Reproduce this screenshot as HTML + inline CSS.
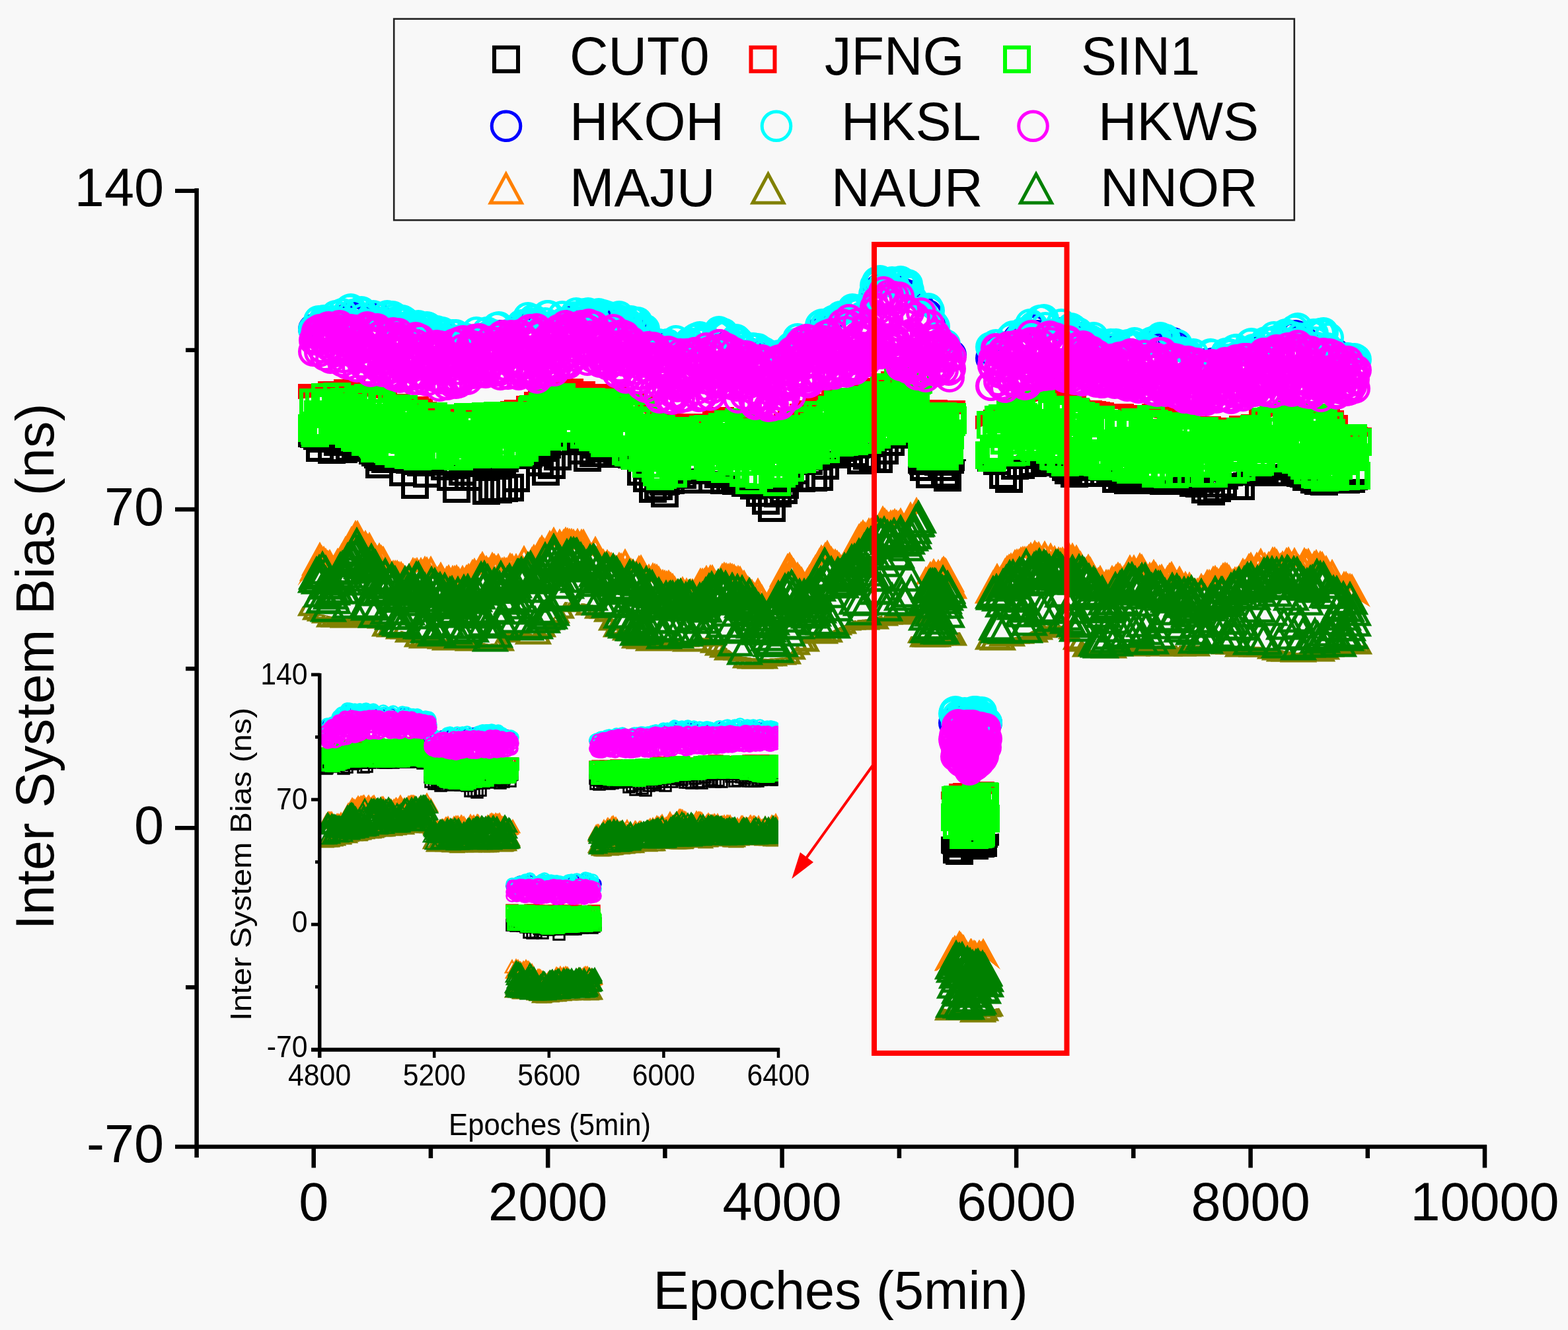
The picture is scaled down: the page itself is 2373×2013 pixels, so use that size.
<!DOCTYPE html><html><head><meta charset="utf-8"><title>Inter System Bias</title><style>html,body{margin:0;padding:0;background:#f8f8f8;width:2373px;height:2013px}svg{display:block}</style></head><body><svg width="2373" height="2013" viewBox="0 0 2373 2013"><rect width="2373" height="2013" fill="#f8f8f8"/><defs>
<marker id="mCUT0" markerUnits="userSpaceOnUse" markerWidth="44" markerHeight="44" refX="0" refY="0" overflow="visible"><rect x="-18" y="-18" width="36" height="36" fill="none" stroke="#000000" stroke-width="6"/></marker>
<marker id="mJFNG" markerUnits="userSpaceOnUse" markerWidth="44" markerHeight="44" refX="0" refY="0" overflow="visible"><rect x="-18" y="-18" width="36" height="36" fill="none" stroke="#ff0000" stroke-width="6"/></marker>
<marker id="mSIN1" markerUnits="userSpaceOnUse" markerWidth="44" markerHeight="44" refX="0" refY="0" overflow="visible"><rect x="-18" y="-18" width="36" height="36" fill="none" stroke="#00ff00" stroke-width="6"/></marker>
<marker id="mHKOH" markerUnits="userSpaceOnUse" markerWidth="10" markerHeight="10" refX="0" refY="0" overflow="visible"><circle r="20.5" fill="none" stroke="#0000ff" stroke-width="5"/></marker>
<marker id="mHKSL" markerUnits="userSpaceOnUse" markerWidth="10" markerHeight="10" refX="0" refY="0" overflow="visible"><circle r="20.5" fill="none" stroke="#00ffff" stroke-width="5"/></marker>
<marker id="mHKWS" markerUnits="userSpaceOnUse" markerWidth="10" markerHeight="10" refX="0" refY="0" overflow="visible"><circle r="20.5" fill="none" stroke="#ff00ff" stroke-width="5"/></marker>
<marker id="mMAJU" markerUnits="userSpaceOnUse" markerWidth="10" markerHeight="10" refX="0" refY="0" overflow="visible"><path d="M0 -22 L24 22 L-24 22 Z" fill="none" stroke="#ff8000" stroke-width="5" stroke-linejoin="miter"/></marker>
<marker id="mNAUR" markerUnits="userSpaceOnUse" markerWidth="10" markerHeight="10" refX="0" refY="0" overflow="visible"><path d="M0 -22 L24 22 L-24 22 Z" fill="none" stroke="#808000" stroke-width="5" stroke-linejoin="miter"/></marker>
<marker id="mNNOR" markerUnits="userSpaceOnUse" markerWidth="10" markerHeight="10" refX="0" refY="0" overflow="visible"><path d="M0 -22 L24 22 L-24 22 Z" fill="none" stroke="#008000" stroke-width="5" stroke-linejoin="miter"/></marker>
<marker id="iCUT0" markerUnits="userSpaceOnUse" markerWidth="21.5" markerHeight="21.5" refX="0" refY="0" overflow="visible"><rect x="-8.25" y="-8.25" width="16.5" height="16.5" fill="none" stroke="#000000" stroke-width="3"/></marker>
<marker id="iJFNG" markerUnits="userSpaceOnUse" markerWidth="21.5" markerHeight="21.5" refX="0" refY="0" overflow="visible"><rect x="-8.25" y="-8.25" width="16.5" height="16.5" fill="none" stroke="#ff0000" stroke-width="3"/></marker>
<marker id="iSIN1" markerUnits="userSpaceOnUse" markerWidth="21.5" markerHeight="21.5" refX="0" refY="0" overflow="visible"><rect x="-8.25" y="-8.25" width="16.5" height="16.5" fill="none" stroke="#00ff00" stroke-width="3"/></marker>
<marker id="iHKOH" markerUnits="userSpaceOnUse" markerWidth="10" markerHeight="10" refX="0" refY="0" overflow="visible"><circle r="8.5" fill="none" stroke="#0000ff" stroke-width="2.6"/></marker>
<marker id="iHKSL" markerUnits="userSpaceOnUse" markerWidth="10" markerHeight="10" refX="0" refY="0" overflow="visible"><circle r="8.5" fill="none" stroke="#00ffff" stroke-width="2.6"/></marker>
<marker id="iHKWS" markerUnits="userSpaceOnUse" markerWidth="10" markerHeight="10" refX="0" refY="0" overflow="visible"><circle r="8.5" fill="none" stroke="#ff00ff" stroke-width="2.6"/></marker>
<marker id="iMAJU" markerUnits="userSpaceOnUse" markerWidth="10" markerHeight="10" refX="0" refY="0" overflow="visible"><path d="M0 -9 L10 9 L-10 9 Z" fill="none" stroke="#ff8000" stroke-width="2.6" stroke-linejoin="miter"/></marker>
<marker id="iNAUR" markerUnits="userSpaceOnUse" markerWidth="10" markerHeight="10" refX="0" refY="0" overflow="visible"><path d="M0 -9 L10 9 L-10 9 Z" fill="none" stroke="#808000" stroke-width="2.6" stroke-linejoin="miter"/></marker>
<marker id="iNNOR" markerUnits="userSpaceOnUse" markerWidth="10" markerHeight="10" refX="0" refY="0" overflow="visible"><path d="M0 -9 L10 9 L-10 9 Z" fill="none" stroke="#008000" stroke-width="2.6" stroke-linejoin="miter"/></marker>
<clipPath id="ic"><rect x="484" y="990" width="694" height="600"/></clipPath>
</defs>
<defs><clipPath id="c0"><polygon points="411,2013 411,666 451,666 489,661 522,659 555,676 578,689 604,692 637,695 670,695 703,695 752,695 773,691 806,686 822,676 855,656 872,658 921,679 954,691 970,702 997,735 1036,711 1052,709 1106,716 1139,735 1172,735 1188,732 1204,702 1237,691 1270,676 1303,672 1336,666 1356,656 1412,653 1452,653 1452,2013"/></clipPath><clipPath id="c1"><polygon points="411,0 411,604 451,604 489,600 522,595 555,600 578,604 604,615 637,624 670,631 703,630 752,627 773,623 806,617 822,610 855,595 872,595 921,604 954,610 970,620 997,645 1036,650 1052,647 1106,634 1139,645 1172,654 1188,650 1204,637 1237,625 1270,608 1303,604 1336,590 1356,575 1412,568 1452,568 1452,0"/></clipPath><clipPath id="c2"><polygon points="1334,2013 1334,695 1374,695 1463,695 1503,695 1503,2013"/></clipPath><clipPath id="c3"><polygon points="1334,0 1334,627 1374,627 1463,627 1503,627 1503,0"/></clipPath><clipPath id="c4"><polygon points="1436,2013 1436,701 1476,701 1504,698 1570,682 1620,708 1636,701 1673,711 1709,716 1745,726 1781,722 1836,722 1890,711 1945,700 1999,729 2035,725 2076,725 2116,725 2116,2013"/></clipPath><clipPath id="c5"><polygon points="1436,0 1436,650 1476,650 1504,637 1570,607 1620,615 1636,625 1673,632 1709,632 1745,632 1781,640 1836,654 1890,647 1945,621 1999,630 2035,661 2076,661 2116,661 2116,0"/></clipPath><clipPath id="c6"><polygon points="1384,2013 1384,1266 1424,1266 1450,1270 1476,1270 1513,1261 1553,1261 1553,2013"/></clipPath><clipPath id="c7"><polygon points="1384,0 1384,1210 1424,1210 1450,1208 1476,1205 1513,1200 1553,1200 1553,0"/></clipPath><clipPath id="c8"><polygon points="411,0 411,514 451,514 466,512 506,497 532,501 572,501 621,514 670,524 703,522 740,517 773,512 806,504 822,504 839,500 872,497 904,495 921,497 937,512 970,521 1003,537 1040,539 1089,527 1106,537 1139,547 1172,554 1188,547 1204,524 1237,517 1254,511 1287,488 1305,492 1318,484 1326,447 1340,448 1373,458 1406,484 1416,512 1422,527 1439,533 1463,542 1503,542 1503,0"/></clipPath><clipPath id="c9"><polygon points="1436,0 1436,566 1476,566 1504,534 1537,522 1570,510 1603,517 1636,527 1673,551 1709,542 1745,536 1781,547 1818,558 1854,552 1890,547 1927,537 1963,529 1999,537 2035,551 2076,552 2116,552 2116,0"/></clipPath><clipPath id="c10"><polygon points="1380,0 1380,1112 1420,1112 1445,1103 1468,1103 1490,1107 1517,1112 1557,1112 1557,0"/></clipPath><clipPath id="c11"><polygon points="411,0 411,886 451,886 483,850 506,870 539,817 572,853 604,880 637,863 670,886 703,889 736,863 748,867 760,865 789,860 806,852 839,827 855,830 888,834 904,847 937,860 954,865 970,870 1003,893 1052,896 1070,887 1091,880 1114,887 1138,895 1162,930 1189,872 1195,868 1219,898 1249,847 1272,865 1293,832 1323,802 1340,794 1366,797 1389,777 1419,807 1459,807 1459,0"/></clipPath><clipPath id="c12"><polygon points="411,2013 411,914 451,914 483,929 506,934 539,934 572,939 604,954 637,963 670,967 703,970 736,974 748,974 760,954 789,954 806,960 839,934 855,911 888,914 904,917 937,944 954,963 970,966 1003,970 1052,970 1070,963 1091,974 1114,992 1138,996 1162,997 1189,995 1195,989 1219,963 1249,960 1272,949 1293,939 1323,936 1340,929 1366,929 1389,929 1419,934 1459,934 1459,2013"/></clipPath><clipPath id="c13"><polygon points="1334,0 1334,889 1374,889 1397,882 1428,873 1463,919 1503,919 1503,0"/></clipPath><clipPath id="c14"><polygon points="1334,2013 1334,963 1374,963 1397,963 1428,963 1463,954 1503,954 1503,2013"/></clipPath><clipPath id="c15"><polygon points="1436,0 1436,932 1476,932 1505,886 1547,844 1587,853 1621,847 1651,871 1673,895 1716,866 1763,880 1818,895 1854,884 1908,862 1963,858 1999,866 2035,895 2076,920 2116,920 2116,0"/></clipPath><clipPath id="c16"><polygon points="1436,2013 1436,959 1476,959 1505,969 1547,963 1587,942 1621,951 1651,984 1673,984 1716,979 1763,977 1818,977 1854,977 1908,979 1963,988 1999,984 2035,981 2076,974 2116,974 2116,2013"/></clipPath><clipPath id="c17"><polygon points="1375,0 1375,1472 1415,1472 1450,1440 1475,1457 1495,1452 1520,1472 1560,1472 1560,0"/></clipPath><clipPath id="c18"><polygon points="1375,2013 1375,1524 1415,1524 1450,1531 1475,1531 1495,1529 1520,1524 1560,1524 1560,2013"/></clipPath></defs>
<g>
<g clip-path="url(#c0)"><path fill="none" stroke="none" marker-start="url(#mCUT0)" marker-mid="url(#mCUT0)" marker-end="url(#mCUT0)" d="M472 656l4-2 4 6 4 1 4 3 4-3 4 2 4-3 4 1 4 2 4-13 4-6 4 15 4 3 4 2 4-8 4 10 4 1 4 6 4-7 4 1 4-7 4 18 4 4 4 3 4 3 4 3 4 1 4-10 4-1 4-2 4 2 4 8 4 0 4-3 4 4 4 3 4 3 4-9 4-5 4 1 4-1 4-4 4 12 4 7 4-3 4-1 4-9 4-7 4-1 4 3 4 0 4 2 4 17 4-15 4 3 4 1 4 3 4 5 4-7 4-3 4-8 4-1 4 5 4 15 4-7 4-10 4 4 4 11 4 3 4-3 4-4 4 6 4-2 4-10 4 5 4-1 4-3 4 4 4-19 4 4 4-2 4 15 4-2 4-13 4 13 4-4 4-6 4 2 4-4 4-12 4-3 4 10 4-8 4-11 4-5 4 13 4-18 4 4 4 16 4 2 4-1 4-3 4 9 4-11 4 5 4-4 4 1 4 16 4 3 4 0 4 3 4-19 4 3 4 1 4 9 4-5 4 7 4 10 4-2 4 2 4 3 4-9 4 7 4 3 4 1 4 1 4 14 4-2 4 2 4 6 4 25 4-10 4 3 4-1 4-9 4 0 4 0 4-4 4-13 4-1 4-8 4 6 4 7 4-6 4 9 4-3 4-7 4 5 4-6 4 14 4-3 4-7 4-5 4 2 4 13 4-2 4-9 4 6 4 3 4 12 4-2 4 3 4-9 4 17 4-9 4 7 4-5 4-2 4-4 4 7 4-9 4 0 4 3 4 6 4 0 4-9 4 0 4 18 4 0 4-13 4-20 4-10 4-4 4-5 4 0 4 4 4-2 4 14 4-16 4 8 4 1 4-2 4-2 4-15 4 8 4 1 4 1 4 0 4-7 4 1 4-3 4-3 4 6 4-19 4 5 4 11 4-1 4-6 4-3 4-2 4 10 4-1 4-9 4 0 4-11 4 3 4 1 4 1 4-11 4-3 4 0 4 2 4 0 4-4 4 2 4 5 4 7 4 3 4-17"/></g>
<g clip-path="url(#c0)"><path fill="none" stroke="none" marker-start="url(#mCUT0)" marker-mid="url(#mCUT0)" marker-end="url(#mCUT0)" d="M475 657l9 21 9-15 9 18 9-12 9 11 9-2 9-11 9 4 9 7 9-2 9 27 9-8 9-6 9 3 9 23 9-26 9 45 9-34 9 17 9-27 9 9 9 7 9 16 9 18 9-26 9 8 9-21 9-8 9 50 9-4 9 2 9-2 9-1 9-14 9-41 9 6 9-8 9 19 9 14 9-10 9-13 9-31 9-2 9 10 9 14 9 11 9-7 9-10 9-1 9 12 9-4 9-2 9 3 9 6 9 24 9 10 9 16 9-4 9 11 9-20 9-9 9 1 9 7 9-14 9-3 9-1 9 18 9-8 9 9 9-1 9 2 9-9 9 9 9 7 9 11 9 12 9 11 9-22 9-5 9-25 9-5 9 12 9-34 9 33 9-1 9-17 9-20 9 3 9-10 9-4 9 12 9 11 9-7 9 4 9 1 9-13 9-13 9-11 9-3 9 2 9-1"/></g>
<g clip-path="url(#c2)"><path fill="none" stroke="none" marker-start="url(#mCUT0)" marker-mid="url(#mCUT0)" marker-end="url(#mCUT0)" d="M1395 696l2 2 2-4 2 3 2-3 2-2 2-11 2 4 2 5 2-4 2-3 2-3 2 4 2 3 2-3 2 14 2-14 2 0 2-5 2-1 2-1 2 9 2 6 2-15"/></g>
<g clip-path="url(#c2)"><path fill="none" stroke="none" marker-start="url(#mCUT0)" marker-mid="url(#mCUT0)" marker-end="url(#mCUT0)" d="M1398 707l4-17 5 28 5-25 4 0 4 6 5 8 5 10 4 6 4-27"/></g>
<g clip-path="url(#c4)"><path fill="none" stroke="none" marker-start="url(#mCUT0)" marker-mid="url(#mCUT0)" marker-end="url(#mCUT0)" d="M1497 689l4-6 4 4 4-4 4 4 4-8 4-2 4-2 4 0 4 11 4-3 4 5 4-7 4 7 4-19 4 15 4-7 4-1 4 2 4 7 4-3 4-7 4 10 4-1 4-3 4-3 4 9 4 11 4 4 4 5 4-1 4-5 4 4 4 2 4-3 4-7 4-6 4 4 4 0 4-5 4 8 4-4 4 1 4 0 4 9 4 0 4 7 4 2 4 3 4-3 4-10 4 1 4 2 4 1 4 1 4 9 4-5 4-1 4 0 4 0 4-2 4-2 4 14 4-3 4-4 4 7 4 1 4 4 4-4 4 3 4-11 4 10 4-4 4-9 4-6 4 2 4-2 4 0 4 19 4-17 4-2 4-1 4 21 4-2 4 0 4-20 4 2 4 11 4 4 4 0 4-21 4 0 4 12 4-14 4 9 4 3 4 4 4 1 4-5 4 3 4-20 4-1 4-1 4 10 4 7 4-1 4-9 4 3 4-12 4-3 4 2 4-3 4 2 4 6 4 0 4-1 4 19 4 3 4 0 4 4 4 2 4-9 4 12 4 4 4-8 4-8 4 4 4 10 4 0 4-5 4-8 4 8 4-12 4 6 4 10 4 3 4-2 4 1 4-4 4-3"/></g>
<g clip-path="url(#c4)"><path fill="none" stroke="none" marker-start="url(#mCUT0)" marker-mid="url(#mCUT0)" marker-end="url(#mCUT0)" d="M1500 693l9 5 9 21 9 6 9-20 9-1 9-15 9 12 9-1 9-6 9 5 9-4 9 1 9 16 9 5 9-1 9-17 9 17 9-11 9 2 9 7 9 11 9-6 9 8 9-4 9-8 9 12 9 0 9-1 9 2 9-6 9 0 9 6 9-8 9 11 9 1 9 9 9 3 9-5 9-7 9-17 9 21 9 0 9-31 9 0 9 10 9-2 9-12 9 14 9-17 9 2 9 14 9 2 9 6 9-1 9 7 9 1 9-7 9-2 9-1 9 6 9-6"/></g>
<g clip-path="url(#c6)"><path fill="none" stroke="none" marker-start="url(#mCUT0)" marker-mid="url(#mCUT0)" marker-end="url(#mCUT0)" d="M1445 1271l2 1 2-7 2 5 2 1 2 0 2 1 2-6 2-1 2 7 2-16 2-1 2 2 2-5 2 0 2 12 2 9 2-4 2-9 2-9 2 19 2-4 2-4 2-3"/></g>
<g clip-path="url(#c6)"><path fill="none" stroke="none" marker-start="url(#mCUT0)" marker-mid="url(#mCUT0)" marker-end="url(#mCUT0)" d="M1448 1286l4 2 5-11 5-12 4-1 4 7 5 9 5-18 4 15 4-1"/></g>
<g clip-path="url(#c1)"><path fill="none" stroke="none" marker-start="url(#mJFNG)" marker-mid="url(#mJFNG)" marker-end="url(#mJFNG)" d="M472 602l6 6 6 1 6-2 6-3 6-6 6 0 6 0 6 2 6-5 6 1 6 2 6 11 6 1 6 0 6 0 6-2 6 0 6 3 6 7 6 2 6-3 6 9 6 1 6-5 6 5 6-6 6 3 6 5 6 2 6 2 6 4 6-1 6 4 6 1 6-3 6 0 6 3 6-5 6 5 6-1 6-4 6 4 6-4 6 2 6-4 6 3 6-2 6 1 6-1 6-3 6-4 6-2 6 3 6 0 6-9 6 5 6-11 6-3 6 6 6-3 6-3 6-2 6-9 6-4 6-2 6 5 6 2 6-3 6 4 6 1 6-1 6 0 6 4 6 7 6-8 6-1 6 3 6 9 6 1 6 1 6-2 6 3 6 2 6 14 6 7 6 2 6 4 6-3 6 8 6-6 6 0 6 5 6-1 6 9 6-8 6-5 6 9 6-1 6-8 6 2 6 1 6-11 6-2 6 4 6-1 6 3 6-1 6 6 6 2 6-8 6 2 6 2 6 9 6-1 6 4 6 4 6-9 6-1 6-2 6-4 6-4 6-5 6-1 6-4 6 0 6-5 6 7 6-11 6-3 6-3 6 2 6-8 6-2 6 3 6 1 6 0 6 0 6-1 6-4 6-6 6-4 6-3 6-2 6 0 6 1 6-4 6-7 6-8 6 1 6-4 6 3 6-1 6-2"/></g>
<g clip-path="url(#c3)"><path fill="none" stroke="none" marker-start="url(#mJFNG)" marker-mid="url(#mJFNG)" marker-end="url(#mJFNG)" d="M1395 629l3-3 3 2 3 8 3 2 3-11 3-1 3 1 3 9 3-2 3 2 3 2 3-8 3 4 3-3 3-4"/></g>
<g clip-path="url(#c5)"><path fill="none" stroke="none" marker-start="url(#mJFNG)" marker-mid="url(#mJFNG)" marker-end="url(#mJFNG)" d="M1497 650l6-6 6-3 6 2 6-7 6-3 6-6 6-2 6-7 6-2 6 6 6-8 6 1 6 2 6-3 6-2 6-2 6 1 6 4 6 4 6-3 6 1 6 8 6 10 6-4 6-4 6 1 6 1 6 1 6 11 6 2 6-1 6 1 6-11 6 2 6 7 6-1 6-2 6 4 6 1 6-3 6-5 6-3 6 6 6 2 6-3 6 5 6 9 6-4 6 5 6 2 6 0 6-3 6 5 6 4 6-9 6 2 6 9 6-8 6 7 6 0 6-2 6 0 6-6 6-3 6 1 6-1 6-2 6 1 6-9 6 4 6-4 6-1 6-3 6-2 6-3 6 1 6 0 6-4 6 6 6 3 6 1 6-2 6-3 6 3 6 2 6 4 6 7 6 14 6 4 6 4 6-3 6-1 6 1"/></g>
<g clip-path="url(#c7)"><path fill="none" stroke="none" marker-start="url(#mJFNG)" marker-mid="url(#mJFNG)" marker-end="url(#mJFNG)" d="M1445 1219l3-1 3-1 3-7 3-3 3 1 3-2 3 8 3 1 3 1 3 0 3-3 3 1 3-10 3 7 3 2"/></g>
<path fill="none" stroke="none" marker-start="url(#mSIN1)" marker-mid="url(#mSIN1)" marker-end="url(#mSIN1)" d="M472 648l2-39 2 43 1 4 2-12 2-17 2-18 2 33 1 5 2-20 2 23 2-49 2 15 1 26 2-33 2 1 2 17 2 18 1-14 2 21 2-36 2-16 2 21 1-5 2-7 2 35 2-21 2-15 1 16 2 0 2-7 2 40 2-40 1 11 2 27 2-9 2 16 2-1 1 2 2-59 2 56 2-13 2-37 1 50 2-6 2 15 2-44 2-23 1 49 2 18 2-37 2 39 2 2 1 6 2-74 2 2 2 18 2 40 1-24 2-28 2 28 2 2 2 36 1-46 2 47 2 3 2-40 2-20 1 57 2-5 2-27 2-30 2 4 1 65 2-28 2-22 2-9 2-9 1 47 2-33 2 12 2 44 2-9 1 9 2-42 2 4 2-25 2 56 1-5 2 14 2-7 2-3 2-33 1 7 2-13 2 0 2 41 2-34 1 30 2-21 2 6 2-33 2-1 1 18 2-15 2 0 2 56 2-45 1 44 2-39 2-4 2 38 2 7 1-33 2 5 2-29 2 20 2 28 1-47 2 20 2-9 2 35 2-9 1 20 2 0 2-27 2 5 2 3 1-13 2 21 2-7 2-42 2 55 1-55 2 17 2-14 2 10 2-8 1 26 2 26 2-31 2 20 2-16 1 26 2-17 2-16 2-24 2 7 1 45 2-41 2-7 2 0 2-3 1 5 2 31 2 7 2-45 2 47 1 5 2-38 2-8 2-4 2 3 1 54 2-39 2 36 2-35 2 25 1-35 2 40 2-28 2 6 2-14 1 31 2 10 2-2 2-9 2-45 1 49 2 0 2-15 2-27 2-2 1 8 2 19 2-39 2-3 2 44 1-21 2 27 2-15 2-23 2-6 1 33 2-43 2 5 2 38 2-43 1 40 2-38 2-7 2 15 2-14 1 50 2-50 2-6 2 15 2-4 1 10 2-19 2-6 2 14 2 24 1 1 2 8 2-18 2-2 2-14 1 5 2-9 2 39 2-6 2-33 1 36 2-38 2 18 2-16 2 4 1 14 2 30 2-49 2 21 2 3 1 21 2-29 2-17 2 54 2 0 1-1 2-35 2 12 2-21 2 2 1 41 2-45 2 50 2 6 2-49 1 12 2 19 2 18 2-56 2 8 1-10 2 17 2 27 2 8 2-7 1-49 2 58 2-19 2-4 2 12 1-40 2 67 2-26 2 28 2-61 1 24 2 21 2 16 2 4 2 1 1-71 2 61 2-16 2 2 2-43 1 70 2-65 2 8 2 66 2-30 1 18 2-16 2-27 2-8 2 9 1 12 2 49 2 6 2-61 2 29 1 38 2-72 2 70 2-7 2-51 1-7 2 32 2 4 2-30 2 25 1-30 2 62 2-33 2-30 2 52 1-40 2-14 2 19 2 13 2-30 1 44 2 5 2-26 2-11 2 36 1-40 2 18 2 17 2 7 2-51 1 51 2 1 2-9 2-35 2 0 1 21 2-32 2 26 2-5 2-4 1-18 2 1 2 57 2-2 2-22 1 16 2-47 2 17 2 4 2-19 1 52 2-45 2-15 2 45 2 19 1-62 2 0 2-6 2 46 2-27 1 49 2-43 2 21 2-17 2 4 1 6 2-42 2 3 2 57 2-43 1 60 2-62 2 14 2 16 2-28 1 71 2-10 2-63 2-7 2 18 1 4 2 29 2-38 2 59 2-46 1 16 2-33 2 7 2 14 2 12 1 5 2-15 2 12 2-35 2 57 1-51 2 2 2 44 2 22 2-76 1 7 2 54 2 2 2-17 2 13 1-53 2 20 2-10 2-16 2 54 1-59 2 16 2 31 2-34 2 8 1-11 2 20 2-42 2-1 2 59 1-12 2-33 2 7 2 32 2-50 1 51 2-10 2-3 2-3 2-28 1 21 2 15 2-54 2 17 2 3 1 32 2-52 2 44 2-35 2 43 1-42 2 16 2-19 2-9 2-6 1 11 2 29 2-1 2 0 2-47 1 7 2 51 2-52 2 10 2 11 1 30 2-61 2 36 2 22 2-56 1-1 2 56 2-18 2 21 2-29 1-23 2-5 2 54 2-2 2-18 1-40 2 51 2-33 2 3 2 40 1-58 2 40 2 14 2-63 2 30 1-31 2 36 2 24 2-56 2 6 1 2 2 4 2-4 2-20 2 0 1 12 2-13 2-3 2 19 2 35 1 13 2-40 2 9 2 26 2-46 1-24 2 61 2-60 2 54 2-33 1 49 2-67 2 45 2 19 2-34 1-38 2 70 2-56 2 20 2 35 1-40 2-27 2-1"/>
<path fill="none" stroke="none" marker-start="url(#mSIN1)" marker-mid="url(#mSIN1)" marker-end="url(#mSIN1)" d="M1395 685l1 2 1-19 1-4 1 16 1-5 0-34 1 42 1-6 1-4 1-42 1-1 1 12 1-2 1 51 1-48 0 17 1 7 1 20 1-51 1 20 1 34 1-17 1 12 1-22 1 23 0-43 1 45 1-44 1 36 1-13 1-23 1-10 1-2 1 26 1-28 0 55 1-7 1-36 1 49 1-59 1 34 1-5 1-5 1 12 1-8 0 22 1 0 1-23 1-27 1 7 1-8 1 5"/>
<path fill="none" stroke="none" marker-start="url(#mSIN1)" marker-mid="url(#mSIN1)" marker-end="url(#mSIN1)" d="M1497 689l2-46 2 50 1-2 2-9 2 0 2-36 2 37 1-48 2 43 2-27 2-18 2 2 1 32 2-14 2 1 2-20 2 0 1-7 2 58 2-56 2 14 2-19 1 60 2-27 2-31 2 49 2-52 1 19 2-11 2 2 2 27 2-25 1-21 2 43 2 17 2-7 2-47 1 57 2-4 2-61 2 47 2-49 1 48 2-48 2 6 2 29 2-5 1 4 2 7 2-11 2 41 2-30 1-26 2 65 2 1 2-16 2-12 1 4 2-43 2 71 2-5 2 0 1-27 2 37 2-54 2-26 2 19 1-11 2 71 2-50 2 33 2-21 1-38 2 76 2-31 2 26 2-65 1 7 2 52 2-57 2 0 2 30 1 4 2 1 2-16 2 47 2-10 1-11 2-39 2 54 2 9 2-59 1-6 2 0 2 70 2 1 2-7 1 4 2-62 2 47 2 3 2-48 1 34 2-28 2 50 2 3 2-28 1 29 2-51 2-6 2 21 2-18 1 23 2 14 2 22 2-9 2-28 1 22 2 18 2-4 2-31 2 5 1-42 2 2 2 36 2 7 2-14 1 35 2 4 2-51 2 33 2-21 1-23 2 20 2 44 2-77 2 31 1-2 2-22 2 76 2-22 2-52 1 63 2-10 2-2 2-48 2 25 1 24 2-40 2 63 2-54 2 31 1-5 2-17 2-18 2 63 2-28 1-10 2 1 2-32 2 67 2-15 1 15 2-42 2-29 2 6 2 2 1 7 2 35 2-30 2-10 2 23 1 21 2-10 2 12 2-13 2 28 1-27 2 1 2-35 2-3 2 65 1-59 2 44 2 15 2-27 2-27 1 53 2 1 2-50 2 14 2-25 1 34 2 0 2-30 2-2 2-2 1 21 2-16 2 46 2-40 2 17 1 5 2-4 2 26 2-39 2 36 1-48 2 30 2-3 2-34 2 54 1-14 2-4 2-24 2-6 2-6 1 15 2-10 2 30 2-26 2 1 1-14 2 1 2 38 2 12 2-25 1 24 2-12 2-12 2 0 2-37 1 37 2 18 2-13 2-16 2-27 1 36 2-41 2 1 2 33 2 13 1-49 2 36 2-26 2 13 2 27 1 14 2-27 2-40 2 10 2 1 1-8 2 2 2-4 2 55 2 9 1 4 2-54 2 28 2 24 2-12 1 18 2-40 2 45 2-59 2-9 1 75 2-73 2 73 2-11 2-68 1 35 2 50 2-21 2 22 2-87 1 17 2 28 2-31 2-7 2 84 1-65 2 54 2-40 2-27 2 42 1-32 2 54 2 7 2 6 2-59 1 28 2 14 2-13 2-5 2-15 1 26 2-35 2 58 2-39 2 4 1-12 2-4 2 17 2-24 2 56 1-27 2 28 2-51"/>
<path fill="none" stroke="none" marker-start="url(#mSIN1)" marker-mid="url(#mSIN1)" marker-end="url(#mSIN1)" d="M1445 1237l1-26 1 8 1 30 1-39 1 8 0-3 1 12 1-17 1 27 1-10 1 0 1 18 1-29 1 48 1-1 0-31 1 17 1-14 1-23 1 20 1 32 1-17 1 12 1-42 1 43 0-21 1 24 1-33 1-17 1-1 1 50 1-3 1 5 1-46 1-11 0 42 1-30 1-12 1 25 1 31 1-12 1-4 1 15 1-2 1-21 0-26 1 21 1 0 1-3 1-26 1 1 1 33"/>
<g clip-path="url(#c8)"><path fill="none" stroke="none" marker-start="url(#mHKOH)" marker-mid="url(#mHKOH)" marker-end="url(#mHKOH)" d="M474 498l6 4 6-8 6-3 6 0 6 7 6-5 6-5 6-1 6-7 6-1 6 5 6 9 6-12 6 8 6-5 6-4 6 7 6 8 6 3 6 11 6 0 6-6 6 0 6 12 6 2 6-4 6-1 6 9 6 1 6 1 6-2 6-2 6-7 6 1 6 8 6-3 6 3 6 0 6 2 6-1 6-4 6 2 6 1 6-10 6 2 6-1 6-5 6 1 6 1 6 1 6-4 6-6 6 0 6-4 6 6 6 4 6-14 6 11 6-4 6 4 6-1 6-8 6-5 6-2 6-1 6 4 6 3 6 5 6-2 6-1 6 2 6-10 6 0 6 2 6-2 6 4 6-1 6 2 6 3 6 3 6 6 6 14 6 2 6-3 6 7 6 8 6 1 6-4 6-3 6-1 6 5 6-1 6 7 6-2 6-4 6 6 6 0 6-3 6-3 6-4 6 6 6-2 6 1 6-6 6 12 6 3 6 2 6 2 6-7 6 2 6-4 6 6 6 6 6 0 6 1 6 3 6 1 6-3 6-7 6-7 6-5 6-5 6 0 6-2 6-6 6-7 6-5 6 13 6-9 6-10 6-1 6-1 6-8 6 4 6 0 6-6 6 5 6 1 6 0 6-13 6-13 6-24 6-7 6 0 6 1 6 1 6 0 6 3 6 3 6 2 6 14 6 2 6 3 6 13 6-2 6 19 6 13 6 21 6 2 6 3 6 3"/></g>
<g clip-path="url(#c9)"><path fill="none" stroke="none" marker-start="url(#mHKOH)" marker-mid="url(#mHKOH)" marker-end="url(#mHKOH)" d="M1499 542l6-6 6-4 6 0 6-5 6-2 6-6 6-7 6 0 6 1 6 2 6-16 6 8 6 3 6 4 6 0 6-7 6 4 6-8 6 7 6 1 6-3 6 4 6-2 6 15 6-8 6 8 6 19 6-13 6-1 6 8 6-2 6 13 6-7 6 4 6-11 6 2 6 3 6 2 6-2 6-1 6-7 6-12 6 0 6-2 6 0 6 0 6 15 6 18 6-5 6-2 6 12 6 2 6-5 6-3 6 6 6-7 6 8 6-2 6 0 6-1 6-7 6 6 6-14 6-5 6 1 6-4 6 15 6-16 6 1 6 10 6-1 6-12 6-4 6-1 6 8 6-21 6-3 6 7 6 7 6-1 6 13 6 3 6-2 6 3 6-10 6 8 6 0 6 4 6 7 6 2 6 2 6 2"/></g>
<g clip-path="url(#c10)"><path fill="none" stroke="none" marker-start="url(#mHKOH)" marker-mid="url(#mHKOH)" marker-end="url(#mHKOH)" d="M1443 1094l3-4 3 4 3-1 3 8 3-4 3 4 3 4 3-18 3 3 3 6 3 8 3-7 3-8 3-1 3 12 3-7 3 1"/></g>
<g clip-path="url(#c8)"><path fill="none" stroke="none" marker-start="url(#mHKSL)" marker-mid="url(#mHKSL)" marker-end="url(#mHKSL)" d="M474 499l3 0 2-1 3-13 2 9 3 13 3-23 2 1 3 3 2 6 3 12 3-9 2-12 3-8 2 20 3-9 3 5 2-19 3 17 2-2 3-1 3-20 2-1 3 8 2 26 3 3 3 2 2-34 3-1 2 11 3 7 3 18 2-4 3 4 2-16 3-14 3 14 2 5 3-7 2-2 3 22 3-11 2 11 3-32 2 21 3-6 3-14 2 14 3-11 2 5 3-2 3 13 2-13 3 2 2 2 3 10 3-6 2 5 3-4 2 2 3 7 3-10 2 9 3-4 2 0 3-1 3-2 2 1 3 24 2-3 3 11 3-3 2-24 3 24 2-5 3-17 3 4 2 23 3 1 2-10 3-5 3-9 2 1 3-1 2 21 3 0 3 2 2-16 3-2 2 2 3 7 3 4 2-3 3 6 2-6 3-19 3 11 2 2 3 10 2-4 3-10 3-9 2 6 3 3 2 2 3-7 3 14 2-25 3-1 2 14 3 9 3 1 2-9 3 10 2-11 3-4 3 0 2 1 3 2 2-4 3 5 3-17 2 14 3-12 2-3 3-10 3 10 2-2 3-5 2 8 3 16 3-3 2 6 3-9 2-5 3-8 3-11 2 0 3 30 2-14 3 11 3-7 2 5 3 4 2-15 3-13 3 9 2 18 3-2 2-5 3-2 3 6 2-23 3-6 2 14 3 0 3-6 2-4 3-3 2 4 3-5 3 9 2-5 3 6 2 1 3 7 3-17 2 7 3 3 2-8 3 3 3-1 2 3 3 6 2 20 3-25 3 17 2-17 3-4 2 16 3 2 3-9 2 7 3-5 2 19 3-23 3 25 2-15 3-7 2-1 3 9 3 6 2-1 3-3 2 19 3 16 3 0 2-8 3 11 2-2 3 3 3-17 2 21 3-9 2-11 3 7 3-8 2 15 3 8 2-11 3-5 3-12 2 12 3 13 2-9 3-5 3 15 2-5 3 0 2-18 3 4 3 6 2-15 3-2 2 22 3-24 3 7 2 3 3-7 2 18 3 7 3-2 2 2 3-2 2 0 3-28 3-6 2 3 3 4 2-4 3 4 3 26 2-10 3 18 2-16 3-10 3-3 2 2 3 3 2 6 3 25 3-3 2 4 3 2 2-26 3 15 3-15 2 24 3 1 2-24 3 7 3-1 2-1 3 12 2-9 3 9 3 12 2-16 3 1 2 3 3-4 3-3 2 8 3-4 2-5 3 1 3 1 2-4 3-9 2 5 3 3 3-14 2-7 3 7 2 8 3 1 3-4 2 0 3 0 2-7 3-4 3 10 2-10 3 9 2-7 3-23 3-2 2 14 3-12 2 12 3 8 3-25 2 6 3-9 2 4 3 5 3-1 2-14 3 6 2-5 3 19 3 0 2-6 3-19 2-6 3 2 3 5 2 0 3-6 2 2 3 8 3 14 2-1 3 0 2-7 3-17 3-22 2-13 3-6 2 4 3-6 3 19 2-12 3-2 2 8 3-3 3-7 2-1 3 4 2 26 3-13 3 1 2-19 3 3 2 7 3-3 3-2 2 9 3 17 2-3 3 8 3 11 2 5 3 1 2-2 3-1 3 11 2 0 3-20 2 4 3 31 3-10 2 3 3 21 2-1 3 2 3 3 2 2 3 0 2 9 3 5 3 5"/></g>
<g clip-path="url(#c9)"><path fill="none" stroke="none" marker-start="url(#mHKSL)" marker-mid="url(#mHKSL)" marker-end="url(#mHKSL)" d="M1499 525l3 2 2 13 3-19 2 14 3 0 3-5 2 1 3 3 2-7 3 5 3-1 2-20 3-3 2 21 3-6 3 2 2-13 3 1 2-10 3 4 3 13 2-3 3-27 2 20 3-16 3 22 2-2 3 2 2-32 3 0 3-1 2 12 3 24 2-7 3-7 3 9 2 1 3 7 2-9 3-8 3-15 2 25 3 5 2-13 3 4 3-8 2-7 3 2 2 19 3-14 3 0 2 7 3 2 2 22 3 2 3-15 2-1 3-6 2 5 3-9 3 8 2 23 3-12 2 10 3 10 3 1 2 7 3-18 2-18 3-1 3 7 2 19 3-26 2 11 3 1 3 6 2 9 3-14 2-11 3-1 3 16 2 1 3-15 2-5 3 7 3 12 2 7 3-3 2 1 3-1 3 3 2-1 3-14 2-12 3 1 3-1 2-3 3 9 2-13 3 5 3-1 2-1 3 35 2-3 3-10 3 13 2 3 3-15 2-15 3 14 3-3 2 25 3-9 2 1 3-13 3 5 2 1 3-7 2 22 3-2 3 8 2-6 3-1 2 5 3-2 3 3 2 0 3-27 2 1 3 22 3 3 2-9 3-4 2 10 3-11 3 8 2-21 3 9 2-8 3 1 3 12 2-19 3-1 2 11 3 8 3 4 2-14 3 17 2-1 3-20 3-13 2-1 3 9 2 23 3-4 3-5 2 2 3-21 2 8 3-14 3 20 2 7 3-3 2-23 3-9 3 6 2 8 3 13 2 2 3-9 3-11 2-13 3 2 2 30 3-16 3-12 2-10 3 20 2-23 3 15 3 26 2-3 3 4 2 0 3-4 3-4 2-23 3-2 2 12 3 8 3 6 2-27 3 2 2-3 3 24 3-1 2-15 3 35 2-13 3 10 3 2 2 3 3-3 2 0 3 11 3-7 2-5 3-3 2 3 3 3 3 0 2-5 3 2"/></g>
<g clip-path="url(#c10)"><path fill="none" stroke="none" marker-start="url(#mHKSL)" marker-mid="url(#mHKSL)" marker-end="url(#mHKSL)" d="M1443 1080l1-3 2-1 1 17 1 0 1-10 2 25 1 1 1-1 2-7 1-21 1 0 2 2 1-4 1 14 1-8 2-3 1 15 1 7 2 6 1-6 1-12 2-4 1-6 1-5 1 2 2-2 1 5 1 7 2-7 1 29 1-21 2-5 1-7 1 7 1 16 2 14 1-23 1 7 2-5"/></g>
<path fill="none" stroke="none" marker-start="url(#mHKWS)" marker-mid="url(#mHKWS)" marker-end="url(#mHKWS)" d="M474 532l1-17 2-2 1-7 1-5 2 3 1 12 1 17 1-35 2 13 1 16 1-29 2 6 1 9 1 26 2-41 1-3 1 3 1-4 2 31 1 18 1-45 2 2 1 11 1-3 2-4 1 29 1-20 1 12 2-27 1-5 1-1 2 39 1-24 1 41 2-6 1-24 1 12 1-27 2 15 1 34 1-51 2 5 1 3 1-11 1 5 2 31 1-23 1-9 2-3 1 31 1 26 2-38 1 9 1-13 1 15 2-12 1 33 1-11 2 3 1-44 1 1 2 44 1-49 1 65 1-63 2 48 1 19 1-43 2 18 1-19 1-2 2 29 1 8 1-52 1-5 2 34 1-31 1 8 2 0 1 47 1 8 2-58 1 28 1 26 1-25 2 10 1 16 1-44 2 49 1-34 1-18 2 44 1-54 1 66 1-1 2-3 1-55 1 4 2-10 1 16 1 52 2-55 1 5 1 35 1 14 2-16 1-10 1-16 2-14 1 2 1 28 2 24 1-17 1-5 1-20 2 48 1-7 1-13 2-45 1 11 1-10 2 64 1-11 1-11 1-40 2 54 1-23 1 20 2-35 1 38 1-37 2 47 1-24 1-5 1-23 2 14 1 7 1-15 2 2 1 26 1-34 2 46 1-35 1-14 1 8 2-4 1 59 1-62 2 51 1-40 1 8 2 19 1-10 1-3 1-10 2 45 1-33 1-9 2 8 1-5 1 33 2 3 1-26 1-34 1 21 2 40 1-1 1-7 2 7 1-63 1 43 2 11 1-55 1 12 1-13 2 25 1 1 1 0 2 9 1 25 1-29 2 9 1-3 1-30 1 36 2-32 1 40 1-53 2 36 1-34 1 9 2 41 1-53 1 39 1-37 2 49 1-3 1-6 2-8 1-1 1 20 2-10 1-21 1-6 1 6 2-18 1 32 1-9 2-6 1-9 1 23 2 15 1-44 1 44 1-4 2 4 1-51 1 57 2-60 1 19 1-20 2 12 1 1 1 34 1-14 2-9 1 36 1-42 2 23 1-4 1-37 2 8 1-4 1 10 1 1 2 5 1 31 1-32 2 42 1-18 1-44 2 58 1-32 1-21 1 7 2 2 1-1 1 44 2-33 1-30 1 32 2-34 1 68 1-8 1 3 2-25 1 1 1 31 2-47 1-24 1 76 2-18 1 0 1-47 1-5 2 36 1 27 1-4 2-31 1-15 1 30 2 6 1 6 1-47 1 11 2 13 1 23 1-49 2 4 1-10 1 59 2-32 1 26 1-20 1-34 2-4 1 27 1 18 2-44 1 21 1 21 2 9 1-29 1-29 1 10 2 0 1 49 1-3 2-53 1 5 1 1 2-6 1 1 1 2 1 42 2-34 1-3 1 3 2 30 1-6 1 0 2-38 1 27 1 2 1-24 2 32 1-4 1 7 2 14 1-47 1-9 2 18 1 23 1-18 1-20 2 49 1-49 1 24 2-5 1 1 1 22 2-23 1 13 1 24 1-32 2 3 1 25 1-7 2-2 1-35 1 19 2 26 1 7 1-1 1-19 2-1 1-1 1 8 2-41 1 14 1-3 2 14 1 8 1 34 1-20 2 14 1-3 1-27 2-23 1 3 1 38 2 16 1-55 1 65 1-48 2 44 1-41 1 18 2-30 1 6 1-5 2 21 1-5 1 13 1-10 2 24 1-32 1 13 2 33 1-7 1 1 2 15 1-39 1-5 1 17 2-7 1 38 1-57 2 0 1-6 1 18 2-14 1 3 1-2 1 12 2-16 1 68 1-64 2 0 1 3 1 18 2 51 1 2 1-22 1-23 2-2 1 11 1-11 2-14 1 10 1 30 2-11 1-40 1 20 1 53 2-28 1-43 1 72 2-9 1-50 1 36 2 16 1-3 1-9 1-42 2 19 1 40 1-68 2 49 1-16 1 13 2 3 1 17 1-22 1-44 2 8 1 29 1 2 2-29 1-9 1 41 2-42 1-1 1-1 1 0 2 57 1-27 1-14 2 52 1-54 1-1 2 13 1 40 1-50 1-4 2 29 1 10 1-58 2 26 1-12 1-8 2 67 1-36 1 26 1-12 2-18 1 6 1 15 2-49 1 34 1 12 2-56 1 0 1 7 1 53 2-29 1-19 1 48 2-13 1-42 1 3 2 40 1-41 1 22 1 6 2 8 1 15 1 4 2-28 1-22 1 17 2 14 1 21 1-10 1 28 2-66 1 28 1-14 2-5 1 9 1-17 2 60 1-16 1-42 1-2 2 33 1 10 1-7 2-29 1 31 1-22 2 50 1-14 1 15 1 8 2-2 1-52 1 11 2-10 1-16 1 4 2-4 1 65 1-34 1 30 2-31 1-18 1 21 2 7 1 32 1-43 2 39 1-19 1 0 1 22 2-3 1-52 1-13 2 3 1 5 1-10 2 44 1-45 1 69 1-26 2 13 1 8 1-31 2 23 1-32 1-7 2-22 1-1 1 20 1 26 2 15 1-67 1 49 2-16 1-17 1-19 2 7 1 19 1-30 1 7 2 17 1-30 1 53 2-56 1 53 1-16 2-17 1 36 1 5 1-64 2 67 1-32 1 31 2-40 1-24 1 7 2 4 1-3 1 39 1 7 2-38 1 34 1-40 2-5 1-2 1 50 2-45 1 20 1-28 1 5 2-12 1 46 1 14 2-62 1 20 1 17 2 18 1-20 1-37 1 33 2 30 1-45 1 7 2 15 1 20 1-21 2 10 1 4 1-21 1 4 2-50 1 41 1 32 2-1 1-61 1 63 2-42 1-30 1-9 1 63 2-28 1 39 1-17 2 15 1-1 1 6 2-19 1 15 1-67 1 20 2 2 1 25 1-21 2 10 1 19 1-2 2 7 1-13 1-42 1 33 2 6 1 7 1-49 2 49 1-37 1 3 2 27 1 4 1-72 1 66 2-61 1-15 1 62 2 19 1-16 1 16 2-7 1-42 1-46 1 12 2 59 1-24 1 28 2-63 1-7 1 86 2 1 1-6 1-9 1-56 2-14 1 66 1 1 2 8 1-1 1-15 2-58 1 99 1 6 1-3 2-42 1-28 1 67 2-80 1 23 1 58 2 9 1-19 1-66 1 86 2-54 1 52 1-3 2-20 1 22 1-76 2 70 1 18 1-17 1-13 2 22 1-25 1-62 2 68 1 22 1-73 2 49 1 32 1-15 1-22 2-6 1-4 1-33 2 23 1 11 1 31 2-40 1 0 1-10 1 53 2 4 1-50 1 8 2 29 1 6 1-28 2-6 1 19 1 19 1-26 2-9 1 7 1-2 2 12 1 19 1 10 2-13 1-18"/>
<path fill="none" stroke="none" marker-start="url(#mHKWS)" marker-mid="url(#mHKWS)" marker-end="url(#mHKWS)" d="M1499 584l1 0 2-31 1-10 1 14 1-11 2-19 1 1 1 0 2 49 1-21 1 9 2-28 1 46 1-27 1-25 2 36 1 20 1-58 2 10 1 17 1-32 2 13 1 32 1 7 1-33 2 36 1-55 1-1 2 45 1-6 1-29 2 12 1-24 1 7 1 24 2 9 1-33 1 51 2 2 1 2 1-14 2 13 1-15 1 10 1-54 2 21 1-26 1-11 2 11 1 4 1 46 2-23 1 20 1 1 1 5 2-31 1-8 1 4 2-15 1 36 1 10 2-25 1 27 1-8 1 3 2-12 1-43 1 2 2-3 1 60 1-50 2 41 1-28 1 31 1-14 2-37 1 50 1-34 2 40 1-38 1 35 2 2 1-8 1-21 1 27 2 5 1 3 1-1 2-54 1-2 1 3 2 49 1-17 1 11 1 10 2-7 1-19 1 30 2-29 1-11 1-7 2 47 1-51 1 1 1 29 2-1 1 24 1-54 2 7 1 33 1-27 2 3 1 13 1-7 1 26 2-19 1-19 1-2 2 8 1 0 1 8 2 28 1 4 1-21 1-21 2 28 1 6 1-2 2 11 1-25 1 25 2-5 1-5 1 5 1-26 2 2 1 27 1-29 2 27 1-15 1-18 2 2 1 4 1 20 1 12 2-21 1-12 1-6 2 34 1-36 1 17 2 19 1-3 1 8 1-42 2 44 1-25 1-19 2 46 1-9 1-37 2-1 1-3 1 0 1 3 2 43 1 2 1-3 2-8 1-17 1-6 2 39 1-11 1 0 1-2 2-5 1 17 1-17 2-33 1 7 1 28 2-26 1 2 1 36 1-32 2 25 1-26 1 40 2-49 1 18 1-13 2-6 1 39 1 13 1-17 2-43 1 48 1 3 2 5 1-56 1 19 2 24 1 10 1 7 1-6 2-3 1 0 1-36 2 30 1-36 1 2 2 29 1-31 1 43 1-3 2 14 1-53 1 17 2 16 1-16 1-8 2 47 1-46 1-7 1 53 2 4 1-33 1-14 2 42 1-52 1 3 2 26 1 26 1-4 1-17 2 25 1-4 1-2 2-3 1-47 1 54 2-1 1-29 1 29 1 5 2-55 1 50 1-36 2-9 1 9 1 41 2-26 1-28 1 8 1-9 2 6 1 43 1-50 2 2 1 43 1-6 2-20 1 33 1-23 1 22 2-39 1 19 1 19 2-50 1 4 1 11 2-7 1-11 1 25 1 14 2 4 1-29 1 39 2-29 1 32 1-26 2-25 1 42 1-49 1 5 2-7 1 17 1 9 2-24 1 26 1 15 2 6 1 1 1 6 1-58 2 53 1-26 1-27 2 0 1 15 1 5 2 26 1-38 1 39 1-42 2 29 1 15 1 2 2-6 1 1 1-5 2-13 1 6 1-34 1 2 2 47 1-41 1-16 2 0 1 43 1 16 2-13 1-21 1-25 1 9 2-10 1 44 1-9 2 27 1-57 1-6 2 41 1-44 1 37 1-28 2-1 1-2 1 42 2-26 1 40 1-19 2-32 1 39 1-7 1 10 2-56 1 39 1-25 2 31 1-35 1 57 2-62 1 59 1-1 1-62 2 47 1 9 1-61 2 69 1-42 1 34 2-25 1-22 1-8 1 45 2-16 1 38 1-31 2-14 1 29 1 17 2-7 1-58 1 65 1-32 2 8 1-9 1-8 2-17 1 44 1-43 2-1 1 23 1 25 1 15 2-20 1-46 1-1 2 53 1-20 1 6 2-26 1 23 1 14 1-49 2 25 1 22 1 6 2-11 1-39 1 22 2-16 1 53 1-2 1-23 2-4 1 21 1-2 2-5 1-36 1 6 2 5 1 34 1-24 1 25 2-46 1 1 1 44 2-13 1-22 1 28 2-26 1 8 1 8 1 14 2-28"/>
<path fill="none" stroke="none" marker-start="url(#mHKWS)" marker-mid="url(#mHKWS)" marker-end="url(#mHKWS)" d="M1443 1119l1-6 0 10 1-8 1 30 0-17 1 6 1 6 0-42 1 3 1-1 0-4 1 38 0-31 1 39 1 8 0-52 1 55 1-40 0-14 1 55 1-13 0-3 1-21 1 24 0-7 1-2 1-24 0 3 1 6 1-14 0-6 1 64 0-6 1-45 1 37 0-50 1 69 1-62 0 57 1-49 1 2 0 45 1-3 1-59 0 4 1 39 1-2 0-9 1-16 1 46 0-11 1 10 0-22 1-3 1-5 0 21 1-49 1 7 0 37 1 10 1-13 0-39 1-2 1 33 0-2 1 7 1-6 0 16 1-35 1 31 0-16 1-17 0-4 1-4 1 25 0-26 1 29 1-13"/>
<g clip-path="url(#c11)"><path fill="none" stroke="none" marker-start="url(#mMAJU)" marker-mid="url(#mMAJU)" marker-end="url(#mMAJU)" d="M478 863l3-8 3-8 3 5 3 1 3 3 3 3 3-1 3 8 3 1 3-4 3-7 3-1 3-6 3 1 3-12 3-2 3-5 3-8 3 10 3-19 3 0 3 13 3 7 3-2 3-3 3 5 3-2 3 11 3 2 3 3 3 11 3-11 3 3 3 2 3 18 3 2 3-2 3 7 3-4 3 0 3 0 3 2 3 0 3 3 3 5 3-1 3-2 3-4 3-7 3 1 3-1 3 4 3-4 3 3 3-5 3 1 3 10 3-11 3 13 3 3 3 0 3-2 3-5 3 6 3 9 3-9 3-2 3 10 3-9 3 0 3-1 3 3 3 13 3-15 3 5 3-6 3-2 3 4 3-10 3-2 3 4 3 1 3-11 3-4 3 11 3-5 3 3 3 3 3-11 3 2 3 3 3-3 3 7 3-1 3-1 3 1 3 2 3-9 3 1 3 6 3-6 3 6 3-4 3-1 3-13 3 14 3-2 3-3 3-7 3-4 3 4 3-3 3-11 3-4 3 4 3 5 3-6 3-10 3 8 3-13 3 12 3-3 3-6 3 7 3-7 3-3 3 1 3 1 3 0 3 1 3 3 3-4 3 7 3-6 3 0 3 10 3 6 3 3 3 2 3 2 3-12 3 13 3 6 3-1 3 1 3 4 3-3 3 3 3 1 3 4 3 0 3 1 3-5 3 1 3 7 3-13 3 11 3 4 3-1 3 1 3 4 3 1 3-10 3-1 3 6 3 9 3 1 3-2 3 6 3-8 3 1 3 1 3 3 3 5 3 0 3 1 3 1 3-1 3 3 3 2 3 4 3 5 3 0 3 0 3-4 3 5 3-3 3 3 3-2 3 0 3 2 3-2 3-4 3-12 3 0 3 0 3-4 3 12 3-13 3 0 3 8 3 1 3-2 3 0 3-9 3-2 3 1 3 1 3-1 3 1 3 1 3 3 3-1 3 1 3 6 3 0 3 10 3-1 3 3 3 2 3 4 3 1 3-7 3 6 3 4 3 7 3 4 3 7 3 4 3-10 3-13 3-1 3-12 3-9 3 0 3-4 3-7 3-13 3-2 3 5 3 4 3 12 3-6 3 4 3 3 3 7 3 3 3-8 3-5 3-3 3-7 3-5 3-2 3-8 3-5 3 2 3-6 3-3 3 11 3-2 3 4 3 0 3 2 3 3 3 4 3-1 3-3 3-9 3-4 3-4 3-1 3-7 3-12 3-6 3-3 3-3 3 3 3 2 3-8 3 0 3 2 3-7 3 2 3 0 3-3 3-12 3 3 3 3 3 3 3-3 3 0 3-2 3 2 3 1 3-4 3 11 3-2 3-4 3-4 3-10 3 5 3-1 3-11 3 7"/></g>
<g clip-path="url(#c13)"><path fill="none" stroke="none" marker-start="url(#mMAJU)" marker-mid="url(#mMAJU)" marker-end="url(#mMAJU)" d="M1401 884l1 4 2-5 2 1 1-6 1-2 2 2 2 0 1-6 1 5 2 0 2 2 1-3 1-3 2 11 2-1 1-7 1-6 2-2 2 2 1 1 1 1 2 9 2 1"/></g>
<g clip-path="url(#c15)"><path fill="none" stroke="none" marker-start="url(#mMAJU)" marker-mid="url(#mMAJU)" marker-end="url(#mMAJU)" d="M1503 889l3-4 3-6 3 6 3-3 3-3 3-8 3-4 3-2 3-2 3 1 3-6 3-1 3 0 3-3 3-1 3 0 3 0 3-3 3-3 3 6 3-9 3 3 3-1 3 7 3-1 3-7 3 15 3-4 3-8 3 11 3-7 3 5 3-3 3 1 3-1 3 3 3 0 3-11 3 10 3-8 3 7 3-4 3 9 3 0 3 9 3 3 3-3 3-4 3 4 3 7 3 6 3 6 3-3 3-3 3 7 3 4 3-5 3 0 3 7 3-13 3 2 3-4 3-3 3 2 3 5 3-2 3 1 3-5 3-12 3 9 3-9 3 6 3 1 3-10 3 2 3 6 3 5 3 5 3-4 3 1 3-5 3 4 3 7 3-3 3-1 3 6 3 3 3-7 3-4 3-2 3 6 3 6 3 1 3-6 3 6 3 7 3-5 3 7 3-6 3 6 3 3 3 1 3-1 3 1 3-8 3 3 3 5 3-14 3 0 3 1 3-6 3-1 3 3 3 2 3-5 3-4 3-1 3 1 3 3 3 6 3 0 3-3 3 0 3-2 3 1 3-12 3 2 3-1 3-8 3-2 3 7 3 5 3-12 3 2 3-8 3 12 3-6 3 7 3-8 3 0 3-7 3 0 3 3 3 12 3-6 3-3 3 2 3-7 3-1 3 6 3 1 3-6 3 8 3 2 3 3 3-6 3-7 3 2 3-1 3 12 3-3 3-5 3-2 3 12 3-10 3 1 3 9 3-3 3 11 3 6 3-11 3 17 3 3 3-1 3 5 3 3 3-9 3 0 3 3 3 0 3 1 3 6"/></g>
<g clip-path="url(#c17)"><path fill="none" stroke="none" marker-start="url(#mMAJU)" marker-mid="url(#mMAJU)" marker-end="url(#mMAJU)" d="M1442 1445l2 9 1-12 1 2 2 5 2-4 1-4 1-6 2 2 2 3 1 2 1-1 2 9 2 3 1-3 1 4 2-1 2-1 1-5 1 0 2 13 2-11 1 3 1-2 2 14 2-3 1-10 1-2 2 2 2 0 1-1 1-3 2 4 2 7 1 1"/></g>
<g clip-path="url(#c12)"><path fill="none" stroke="none" marker-start="url(#mNAUR)" marker-mid="url(#mNAUR)" marker-end="url(#mNAUR)" d="M478 908l7 6 7 2 7 3 7 6 7 0 7-2 7 3 7-3 7-7 7 2 7 0 7 3 7-1 7 5 7 2 7 12 7 1 7-3 7 6 7 0 7 5 7-1 7 8 7 2 7-1 7-3 7-5 7 10 7 2 7-5 7 1 7-3 7 1 7 7 7-6 7 3 7 1 7-1 7 3 7-13 7-4 7-1 7-5 7 0 7 4 7 0 7 9 7-11 7-10 7-5 7-6 7-7 7-10 7-1 7-1 7-1 7-2 7-1 7 3 7 8 7-7 7 12 7 0 7 5 7 13 7 10 7-3 7 8 7 1 7 11 7 1 7-1 7 4 7-1 7 0 7-6 7-2 7 2 7 1 7-3 7 10 7-8 7-1 7-5 7-2 7 8 7 10 7 4 7 3 7 4 7-1 7 1 7 2 7 10 7 1 7 0 7-4 7 0 7-3 7 1 7-1 7-7 7-7 7-6 7 1 7-14 7-4 7 4 7 2 7-2 7-9 7-2 7-2 7-5 7-1 7-1 7 0 7 1 7-5 7 4 7-8 7 3 7-2 7-4 7-1 7 3 7-6 7-1 7 4 7 5"/></g>
<g clip-path="url(#c14)"><path fill="none" stroke="none" marker-start="url(#mNAUR)" marker-mid="url(#mNAUR)" marker-end="url(#mNAUR)" d="M1401 949l3 6 4 0 4 0 3-2 3-4 4-4 4 7 3-6 3 3 4 4"/></g>
<g clip-path="url(#c16)"><path fill="none" stroke="none" marker-start="url(#mNAUR)" marker-mid="url(#mNAUR)" marker-end="url(#mNAUR)" d="M1503 959l7 1 7-9 7 3 7-4 7 0 7-3 7-5 7 6 7-4 7-3 7-3 7-4 7 2 7-8 7 7 7-3 7 4 7 7 7 16 7 3 7 8 7-3 7-1 7 2 7 4 7-7 7-2 7 0 7 2 7 4 7-8 7 4 7-3 7-2 7 8 7-1 7 2 7-4 7-2 7 6 7-7 7 4 7 3 7-7 7-3 7 0 7 0 7 1 7 1 7-2 7 7 7 0 7 0 7 4 7-3 7 1 7 2 7 0 7-5 7 0 7 8 7 2 7 2 7 0 7-5 7 6 7-7 7-3 7 8 7 1 7-3 7-4 7-4 7 1 7-2 7-1 7 0 7 2"/></g>
<g clip-path="url(#c18)"><path fill="none" stroke="none" marker-start="url(#mNAUR)" marker-mid="url(#mNAUR)" marker-end="url(#mNAUR)" d="M1442 1520l4-6 3 0 3-1 4 2 4-1 3 0 3 2 4-1 4-1 3-1 3 10 4-2 4-6 3-1"/></g>
<path fill="none" stroke="none" marker-start="url(#mNNOR)" marker-mid="url(#mNNOR)" marker-end="url(#mNNOR)" d="M478 873l5 2 5-15 5 22 5 1 5 9 5-2 5-15 5-16 5 7 5-7 5-10 5-8 5-9 5 18 5 2 5 3 5 2 5 0 5 13 5 12 5-11 5 11 5-6 5 6 5 21 5-5 5-16 5 10 5 1 5-1 5-17 5 12 5 5 5 4 5-13 5 2 5 8 5 14 5-15 5 17 5 3 5-4 5-10 5 15 5-14 5-5 5 11 5-3 5-4 5-23 5-1 5 6 5 9 5-5 5 5 5-15 5 15 5-7 5 6 5-7 5-10 5 2 5-2 5-1 5-11 5 16 5-4 5-4 5-3 5-7 5-12 5-12 5 16 5 2 5 1 5-11 5 14 5-13 5-3 5 8 5 5 5 5 5-8 5-1 5 16 5 10 5-1 5-12 5 15 5-13 5 4 5 8 5 12 5-3 5-12 5 1 5 3 5 2 5 16 5-12 5 4 5 6 5 19 5 1 5 2 5-10 5 1 5-1 5 1 5 11 5-1 5-9 5-3 5 1 5 10 5-3 5-5 5-7 5-6 5 2 5 1 5 8 5-12 5-3 5 11 5-8 5 15 5-2 5 6 5 4 5 1 5-2 5 1 5 7 5 2 5 25 5-1 5-11 5-15 5-18 5 3 5-14 5-2 5-4 5 9 5 10 5 5 5 7 5-19 5 3 5-3 5-13 5-21 5-11 5 13 5 0 5 13 5-12 5 13 5-9 5-3 5-13 5-6 5 0 5-5 5-13 5-8 5-2 5 0 5-16 5 4 5-3 5 9 5-3 5-4 5 6 5-10 5 13 5-3 5-5 5-3 5-19"/>
<path fill="none" stroke="none" marker-start="url(#mNNOR)" marker-mid="url(#mNNOR)" marker-end="url(#mNNOR)" d="M479 868l4-3 3 30 4 9 3-38 4 51 4-19 3 7 4-16 3-19 4-9 4 29 3-13 4-30 3 65 4-69 4-13 3-6 4 8 3 20 4 19 4 41 3 3 4-67 3 44 4 34 4-51 3 18 4-5 3-18 4 51 4-40 3 48 4-29 3 37 4 2 4-38 3 40 4-19 3-43 4 29 4 20 3-53 4 15 3 53 4 0 4 0 3 6 4-47 3-10 4 62 4-1 3-62 4 35 3-3 4 19 4-44 3-1 4 54 3-31 4-10 4 47 3-62 4 48 3-43 4 48 4-26 3 1 4 4 3-47 4 12 4 47 3-60 4 83 3-42 4 36 4-37 3-30 4 53 3-56 4 35 4-43 3 28 4-5 3 33 4-63 4-3 3 45 4 32 3-84 4 42 4-15 3 55 4-23 3-52 4 66 4-88 3 83 4-1 3-5 4-82 4 29 3 28 4 3 3-4 4-15 4-26 3-18 4 0 3 2 4 33 4-27 3 6 4 49 3-5 4 4 4-50 3 0 4 29 3 28 4-35 4-10 3 7 4 42 3-43 4 5 4 36 3-18 4 36 3 12 4 3 4-58 3 19 4 43 3-10 4 17 4-16 3 13 4 2 3-9 4-55 4 0 3 47 4 13 3-49 4 7 4 52 3-12 4-31 3-11 4 30 4 23 3-55 4-1 3 6 4 47 4-2 3-49 4 1 3 26 4 20 4-43 3 28 4-17 3 30 4 4 4-62 3 10 4-1 3-12 4-1 4 55 3-46 4 29 3 24 4-54 4 75 3-75 4 56 3-54 4 86 4-76 3-6 4 21 3 21 4-11 4 21 3-15 4 15 3-12 4 21 4 9 3-3 4 12 3-66 4 57 4-52 3 26 4 10 3-21 4-33 4 17 3 26 4-42 3 24 4-24 4 1 3 25 4-31 3 28 4 13 4-18 3-37 4 55 3-81 4 40 4 41 3 5 4-26 3-35 4-10 4-4 3-5 4 15 3-11 4-17 4-1 3 58 4-66 3 68 4 14 4-94 3 35 4 8 3-34 4 54 4-20 3 19 4-41 3 67 4-104 4 8 3 87 4-68 3-3 4-26 4 90 3 8 4-83 3 46 4 24 4-96 3-10 4-6"/>
<path fill="none" stroke="none" marker-start="url(#mNNOR)" marker-mid="url(#mNNOR)" marker-end="url(#mNNOR)" d="M1401 905l3-2 2-16 2-2 3 0 3 0 2 1 2 6 3 2 3 2 2-1 2 2 3 3 3-11 2 7"/>
<path fill="none" stroke="none" marker-start="url(#mNNOR)" marker-mid="url(#mNNOR)" marker-end="url(#mNNOR)" d="M1402 930l2 19 2-53 1 48 2-55 2 35 2 20 2-32 1-26 2 13 2 52 2-15 2-42 1 57 2-70 2 24 2 7 2 14 1-36"/>
<path fill="none" stroke="none" marker-start="url(#mNNOR)" marker-mid="url(#mNNOR)" marker-end="url(#mNNOR)" d="M1503 897l5-3 5 7 5-15 5-6 5-7 5-1 5 5 5-9 5 1 5-13 5 9 5 0 5-6 5-4 5 6 5-2 5 5 5 12 5-8 5 2 5-5 5 7 5-1 5 2 5 3 5-12 5 2 5 10 5 2 5 18 5-10 5 9 5 1 5 23 5-4 5-3 5-21 5 15 5-17 5 9 5-21 5 9 5-4 5 2 5-7 5 0 5 16 5-1 5 5 5-8 5 8 5 3 5 3 5-7 5 8 5-2 5 7 5 2 5-13 5 18 5-15 5 7 5-7 5 8 5 7 5-3 5-3 5-5 5-7 5 10 5-7 5-9 5-4 5 1 5 8 5-15 5-6 5-1 5 10 5-4 5 1 5-13 5-2 5 6 5 1 5 9 5-1 5 2 5-19 5 7 5-5 5 1 5 8 5 7 5 2 5-3 5 6 5-17 5 3 5 1 5 21 5 1 5-1 5 1 5 17 5-9 5 12 5-11 5 17"/>
<path fill="none" stroke="none" marker-start="url(#mNNOR)" marker-mid="url(#mNNOR)" marker-end="url(#mNNOR)" d="M1504 899l4 46 3 4 4-50 3 11 4 40 4-51 3-18 4 2 3 31 4-41 4 30 3 22 4 24 3-31 4 20 4-60 3-17 4 15 3-19 4 65 4-65 3 18 4 43 3-49 4 63 4-75 3 0 4 4 3 34 4 35 4 5 3-15 4-55 3 75 4 7 4-8 3 2 4-72 3 10 4 14 4 6 3-17 4 87 3 2 4 1 4-46 3-19 4 57 3-5 4-24 4 34 3-21 4-59 3-3 4 6 4 64 3-77 4-3 3 79 4-7 4-39 3 58 4-27 3 12 4-66 4 80 3-71 4-8 3 71 4-69 4 45 3-2 4-10 3 21 4-51 4 39 3-38 4 5 3 50 4-50 4 22 3 5 4-29 3 56 4 13 4-24 3-7 4 26 3 5 4-6 4-50 3 0 4-12 3 59 4-48 4-10 3 38 4 25 3-25 4 22 4 3 3-16 4-62 3 61 4-19 4-45 3 6 4 81 3-68 4-11 4 30 3 43 4-86 3 92 4-99 4 55 3-56 4 27 3-26 4 104 4-106 3 78 4-63 3-14 4 33 4 59 3-26 4 42 3-33 4 17 4-52 3 64 4-90 3-1 4 80 4 5 3 6 4-7 3-82 4 72 4 5 3 1 4-23 3 9 4 24 4-14 3-26 4 31 3-15 4 12 4-19"/>
<path fill="none" stroke="none" marker-start="url(#mNNOR)" marker-mid="url(#mNNOR)" marker-end="url(#mNNOR)" d="M1442 1458l2 5 3-14 3 4 2-1 2 11 3-6 3 12 2-7 2-5 3 16 3-6 2-4 2 4 3 9 3-15 2 7 2 8 3-12 3 5 2 8"/>
<path fill="none" stroke="none" marker-start="url(#mNNOR)" marker-mid="url(#mNNOR)" marker-end="url(#mNNOR)" d="M1443 1516l2-29 2-36 1 21 2 6 2 17 2 22 2-66 1 48 2 20 2-1 2 1 2-6 1-12 2-41 2 25 2 23 2-18 1-18 2-10 2 51 2-2 2-30 1-15 2 27 2 2 2-27 2 17"/>
</g>
<g clip-path="url(#ic)">
<path fill="none" stroke="none" marker-start="url(#iCUT0)" marker-mid="url(#iCUT0)" marker-end="url(#iCUT0)" d="M494 1163l2-4 2-1 2-1 2-1 2-1 2 2 2 1 2-4 2 4 2-3 2-1 2 3 2 0 2-1 2-1 2-4 2 2 2-3 2 3 2-1 2-2 2 0 2 4 2-5 2 1 2 4 2-2 2 2 2 0 2-4 2 0 2 2 2-1 2 1 2 0 2-2 2-1 2-1 2 2 2-1 2-1 2 4 2 2 2-2 2 2 2-4 2-1 2 1 2-1 2 0 2 1 2 0 2 0 2 3 2-2 2 2 2-3 2 1 2 1 2-2 2 1 2 2 2-1 2 1 2-2 2-2 2-1 2 2 2 2 2-3 2 0 2 0 2 1 2 0 2 0 2 4 2 0 2 0"/>
<path fill="none" stroke="none" marker-start="url(#iCUT0)" marker-mid="url(#iCUT0)" marker-end="url(#iCUT0)" d="M495 1162l5-3 5 1 5-3 5 0 5 6 5-2 5-5 5 0 5-4 5 2 5 7 5-1 5-6 5-2 5 0 5 0 5 1 5-1 5 0 5 2 5-2 5-1 5 1 5 1 5-1 5 0 5-1 5 1 5 3 5-2 5-2"/>
<path fill="none" stroke="none" marker-start="url(#iCUT0)" marker-mid="url(#iCUT0)" marker-end="url(#iCUT0)" d="M651 1176l2-2 2 2 2 1 2 0 2 2 2-1 2 5 2-1 2-1 2 0 2-1 2 0 2 0 2 0 2 2 2-1 2 3 2 2 2 1 2 0 2-2 2-2 2 3 2-1 2 3 2-4 2 0 2 3 2-3 2-1 2 0 2 3 2 0 2-4 2 3 2 0 2-3 2 1 2 0 2-3 2 3 2-3 2 0 2-1 2 2 2 0 2-5 2 2 2-3 2 4 2 1 2-2 2 0 2 1 2-2 2 1 2-2 2-1 2-3 2 0 2 1 2-1"/>
<path fill="none" stroke="none" marker-start="url(#iCUT0)" marker-mid="url(#iCUT0)" marker-end="url(#iCUT0)" d="M652 1183l5 3 5 0 5 3 5-6 5 0 5 5 5-4 5 2 5 2 5-2 5 3 5 8 5 0 5 2 5-3 5-11 5-4 5 3 5-5 5 2 5 4 5-2 5-7 5 6"/>
<path fill="none" stroke="none" marker-start="url(#iCUT0)" marker-mid="url(#iCUT0)" marker-end="url(#iCUT0)" d="M775 1400l2-2 2-3 2 6 2-4 2-1 2 2 2-1 2 0 2 0 2 1 2 0 2 0 2 3 2 2 2 0 2-1 2 0 2-1 2 2 2 0 2 2 2 1 2 0 2 0 2 0 2 0 2-3 2-2 2 0 2 0 2 4 2-2 2 3 2-4 2 3 2-5 2 2 2 3 2-3 2-1 2 1 2-2 2 0 2 3 2 1 2-3 2 1 2 0 2 0 2 2 2-1 2-2 2-3 2 4 2 0 2-2 2 2 2 1 2 0 2-2 2-3 2 4 2-4"/>
<path fill="none" stroke="none" marker-start="url(#iCUT0)" marker-mid="url(#iCUT0)" marker-end="url(#iCUT0)" d="M776 1398l5 1 5 0 5 2 5 2 5 8 5 1 5-1 5-6 5 7 5-7 5 2 5-1 5-2 5 10 5-8 5-1 5-3 5 4 5 0 5-2 5 0 5-3 5 0 5 3 5-4"/>
<path fill="none" stroke="none" marker-start="url(#iCUT0)" marker-mid="url(#iCUT0)" marker-end="url(#iCUT0)" d="M901 1178l2 2 2-2 2 3 2-6 2 1 2 1 2 0 2 0 2 0 2-2 2 2 2 2 2 1 2-4 2 3 2 1 2 2 2-4 2-1 2-1 2 3 2-2 2 2 2 3 2-5 2 3 2 0 2-1 2-1 2 3 2-3 2 1 2-2 2 0 2 1 2 0 2 0 2 0 2 0 2 1 2-3 2 1 2-1 2 4 2-3 2 2 2 0 2-3 2-3 2 1 2-2 2 2 2-2 2 0 2-1 2 1 2 2 2 2 2 0 2-1 2 0 2-5 2-1 2 1 2 1 2-1 2-1 2 1 2 3 2 0 2 0 2-4 2-1 2 2 2-1 2 0 2-1 2 0 2 2 2 1 2-4 2 0 2 0 2 1 2-2 2 0 2 0 2 6 2-3 2 2 2 0 2 0 2-1 2 1 2-3 2-1 2 3 2 1 2 0 2-5 2 4 2-4 2-1 2 3 2-3 2 1 2 4 2 1 2 0 2-3 2-1 2 0 2 1 2 4 2-4 2 3 2 1 2 2 2-1 2 1 2 0 2 0 2 2 2-1 2 1 2 0 2-1 2 2 2 0 2 1 2-2 2-2 2 3 2 0 2 2 2 0 2 1"/>
<path fill="none" stroke="none" marker-start="url(#iCUT0)" marker-mid="url(#iCUT0)" marker-end="url(#iCUT0)" d="M902 1186l5 1 5-4 5-2 5 5 5-1 5-2 5 1 5-5 5 4 5 8 5-2 5 6 5-9 5 7 5 3 5-7 5-4 5 0 5 3 5-5 5 6 5-11 5 5 5-6 5 2 5 1 5 4 5 0 5 1 5-7 5 5 5 2 5-9 5 6 5-2 5 3 5-2 5 2 5-15 5 1 5 6 5 7 5-1 5-5 5 2 5 4 5 0 5 0 5 0 5-2 5-5 5 0 5 5 5-3"/>
<path fill="none" stroke="none" marker-start="url(#iJFNG)" marker-mid="url(#iJFNG)" marker-end="url(#iJFNG)" d="M494 1141l4-1 4 1 4-4 4-2 4-1 4-1 4-1 4-1 4-2 4-2 4 0 4 4 4-1 4 0 4-3 4 3 4-1 4 1 4 0 4 0 4-1 4 1 4 0 4 0 4-1 4 0 4 1 4 0 4-2 4-1 4 0 4-2 4 1 4 2 4 1 4 0 4 0 4-2 4-1"/>
<path fill="none" stroke="none" marker-start="url(#iJFNG)" marker-mid="url(#iJFNG)" marker-end="url(#iJFNG)" d="M651 1159l4-1 4-1 4-1 4-1 4 0 4 1 4 1 4 2 4-2 4 2 4-3 4-1 4 2 4-2 4 5 4-1 4 0 4 0 4-1 4 2 4-3 4-1 4 2 4-1 4 3 4-1 4 1 4-1 4 0 4-2 4-1"/>
<path fill="none" stroke="none" marker-start="url(#iJFNG)" marker-mid="url(#iJFNG)" marker-end="url(#iJFNG)" d="M775 1378l4 3 4 0 4-1 4-1 4 0 4 0 4-1 4 0 4 2 4-1 4 1 4-1 4 3 4 1 4 0 4-4 4 0 4 2 4-2 4 2 4-2 4 1 4 3 4-4 4 4 4-2 4 2 4 0 4 0 4-3 4-1"/>
<path fill="none" stroke="none" marker-start="url(#iJFNG)" marker-mid="url(#iJFNG)" marker-end="url(#iJFNG)" d="M901 1161l4-1 4 4 4-3 4-1 4 2 4 1 4-3 4-1 4 1 4 4 4-1 4 0 4 0 4-3 4 1 4 1 4-1 4 1 4-2 4 1 4-1 4-1 4 0 4-4 4 0 4 0 4 1 4-1 4 0 4-1 4 1 4 2 4-2 4 2 4 0 4-1 4 1 4 0 4 0 4-2 4 2 4-2 4-2 4 0 4-1 4 0 4 2 4-1 4 1 4 1 4 1 4-1 4-1 4 0 4 2 4 0 4 0 4-4 4 0 4 1 4-1 4 3 4-2 4-1 4 0 4 0 4 1 4 0"/>
<path fill="none" stroke="none" marker-start="url(#iSIN1)" marker-mid="url(#iSIN1)" marker-end="url(#iSIN1)" d="M494 1146l0 10 1-9 0 11 1-16 0-1 1 4 0-1 1 3 0-6 1-1 0 7 1 6 0-11 1 17 0-3 1-10 0 5 1-1 0 4 1-7 0-3 1 0 0 15 1-21 0-1 1 18 0-5 1-12 0-1 1 1 0-1 1-1 0 19 1 2 0-5 1 3 0-3 1 3 0 2 1-2 0-10 1-7 0-3 1 5 0 15 1-19 0 0 1 8 0-10 1 4 0 8 1 7 0 1 1-7 0-10 1 0 0 9 1-4 0-2 1-8 0 13 1 7 0-10 1 8 0 1 1-17 0 7 1-2 0-1 1-7 0 2 1 0 0-2 1 17 0 0 1 0 0-15 1 15 0-14 1 0 0 18 1-1 0-6 1-10 0 10 1-2 0 9 1-5 0 4 1-8 0-2 1 7 0 1 1 2 0-4 1-13 0-4 1-1 0 13 1-12 0 17 1 0 0 3 1 0 0 2 1-1 0 0 1-6 0-10 1 14 0-12 1 2 0 4 1 8 0-2 1 1 0 0 1-8 0-4 1 13 0 0 1-13 0 6 1-1 0-4 1 2 0 1 1-11 0-2 1 1 0-1 1 9 0 12 1-8 0 9 1-1 0-6 1-13 0 3 1 5 0-12 1 9 0 6 1-2 0 10 1 2 0-6 1 6 0-8 1 7 0-1 1-10 0-8 1 19 0-7 1-11 0-4 1-2 0 4 1 3 0 2 1 8 0 8 1-2 0-22 1 6 0 15 1-2 0 3 1-11 0-10 1 18 0-15 1-3 0 19 1-10 0-1 1-5 0 7 1-3 0 9 1-15 0 13 1 2 0 3 1 4 0 0 1 0 0-8 1-16 0 16 1 4 0-7 1-12 0 22 1-7 0 4 1-6 0 1 1 4 0-9 1 9 0-2 1-13 0 8 1-7 0-4 1 1 0 11 1-6 0 12 1-10 0 10 1-4 0 5 1-6 0 9 1-1 0-4 1 1 0 0 1-20 0 3 1 22 0-3 1-19 0 1 1 0 0 2 1 2 0 13 1-1 0-14 1 16 0 3 1-22 0 9 1 6 0-12 1 13 0-7 1-1 0 12 1-1 0-3 1 0 0-1 1-15 0 11 1 2 0-12 1-5 0 1 1 17 0-18 1 8 0 2 1 2 0 6 1-12 0-5 1 10 0 13 1-13 0-10 1 8 0 4 1-1 0-4 1 1 0 2 1-6 0 7 1 6 0 5 1-17 0-2 1-3 0-1 1 15 0-14 1 4 0 16 1 3 0-17 1-2 0-2 1 21 0-10 1 5 0 6 1-1 0-2 1 4 0-13 1-5 0 0 1 0 0-2 1 17 0 2 1-6 0 0 1-15 0 21 1-8 0 7 1-1 0-17 1 8 0 12 1-6 0-4"/>
<path fill="none" stroke="none" marker-start="url(#iSIN1)" marker-mid="url(#iSIN1)" marker-end="url(#iSIN1)" d="M651 1165l0 8 1-4 0 8 1-11 0-7 1 11 0-1 1 7 0-5 1 6 0-3 1 0 0-6 1 2 0-10 1-4 0 11 1 6 0 5 1-10 0-1 1-5 0 7 1 6 0-13 1-5 0-1 1 0 0 2 1 1 0 14 1-6 0 2 1-5 0 12 1 0 0-7 1-3 0 10 1-18 0 22 1-8 0-11 1-1 0 3 1 0 0 19 1-6 0-10 1 17 0-23 1 3 0 0 1 8 0 3 1-1 0 4 1 1 0 6 1-27 0-1 1 4 0 0 1 14 0-3 1 0 0 9 1-20 0 3 1-6 0-1 1 23 0 3 1 2 0 1 1 0 0-9 1 7 0-12 1 11 0-25 1 12 0-2 1 5 0-3 1 13 0-10 1-16 0 19 1-17 0 12 1-13 0 8 1-6 0 7 1-10 0 4 1 21 0-3 1-16 0-4 1 20 0-12 1 11 0 2 1-9 0 7 1-4 0 5 1 6 0 2 1-1 0 2 1-6 0-14 1 4 0-2 1-9 0 18 1 7 0-18 1 14 0-24 1 9 0-9 1-1 0 21 1-11 0-8 1 1 0-1 1 2 0-4 1 23 0-20 1 5 0-5 1-1 0 25 1-5 0-12 1-2 0-6 1 1 0 2 1 14 0-19 1 0 0 3 1-3 0 1 1 0 0 1 1 1 0-3 1 7 0-2 1 9 0-14 1 4 0 9 1 12 0 1 1-4 0-8 1 8 0 2 1 0 0-1 1-21 0 8 1 0 0 12 1 3 0-6 1 1 0-1 1-11 0-6 1 11 0-9 1-1 0 3 1-5 0 10 1-7 0-3 1 11 0 6 1-1 0-9 1-7 0 0 1 17 0 3 1-6 0 2 1-14 0 17 1 0 0-3 1-2 0-12 1-3 0 20 1-2 0-1 1 3 0-11 1-8 0 6 1-6 0 5 1 9 0-8 1 5 0-12 1 7 0 10 1 2 0-1 1 3 0-4 1 1 0-15 1 15 0 2 1-1 0-11 1-8 0 12 1 7 0-1 1 2 0-13 1-1 0 10 1-9 0 6 1-3 0 10 1-2 0-2 1-9 0 1 1 5 0-12 1 8 0 6 1-14 0-1"/>
<path fill="none" stroke="none" marker-start="url(#iSIN1)" marker-mid="url(#iSIN1)" marker-end="url(#iSIN1)" d="M775 1379l0 1 1 6 0 0 1 13 0-13 1 5 0-3 1-6 0-3 1 7 0 11 1 2 0 0 1-11 0-7 1 3 0-1 1 0 0 14 1-13 0 0 1 8 0 1 1 0 0-14 1 2 0 6 1 10 0-12 1-1 0 6 1 3 0-8 1-4 0 15 1-7 0-8 1 2 0-4 1 17 0-3 1-3 0 8 1 1 0 3 1-10 0 0 1-3 0-8 1-2 0 2 1 0 0 6 1-6 0-1 1 22 0-6 1-6 0-10 1 3 0 10 1-13 0 5 1-5 0 5 1-5 0 15 1-14 0-1 1 0 0 11 1-5 0 13 1-19 0 14 1 4 0-2 1-1 0 8 1-3 0-11 1-5 0 7 1 0 0-11 1 6 0-6 1 5 0-5 1 1 0-1 1 0 0 2 1 4 0-5 1 8 0 11 1-4 0 7 1-1 0-1 1-6 0 6 1 2 0 1 1-2 0 2 1-8 0 9 1-17 0 11 1 4 0-10 1 10 0-15 1 8 0-9 1 0 0 9 1 7 0-5 1 6 0-1 1-4 0 4 1-4 0 4 1-10 0-13 1 3 0-2 1 9 0 1 1-8 0 21 1 0 0-4 1-2 0 4 1 2 0-8 1 3 0 4 1-18 0-5 1 0 0 2 1-2 0 2 1 13 0-10 1 0 0-1 1-1 0 2 1-5 0 21 1-17 0-4 1 9 0 10 1 3 0-4 1-9 0-1 1-5 0 1 1 13 0 2 1-6 0-11 1 14 0 3 1 3 0-11 1 3 0 6 1-1 0 3 1 0 0-4 1 0 0-14 1 15 0-14 1-2 0 19 1-10 0 2 1-2 0-8 1 7 0-7 1-2 0 5 1-4 0-2 1 1 0 4 1 3 0-1 1 0 0 11 1-17 0 11 1 0 0 1 1-5 0-5 1 1 0 7 1 6 0 0 1-2 0-15 1 2 0 2 1-4 0 4 1-3 0-2 1 17 0 3 1-1 0 2 1-1 0 1 1-3 0 2 1-1 0-5 1 4 0 2 1-6 0 5 1 1 0 0 1 0 0-12 1 2 0-6 1-1 0 10 1 3 0 2 1-16 0-1 1 4 0 7 1-1 0 9 1 0 0-7"/>
<path fill="none" stroke="none" marker-start="url(#iSIN1)" marker-mid="url(#iSIN1)" marker-end="url(#iSIN1)" d="M901 1170l0-8 1-1 0 1 1 1 0-1 1 6 0 10 1 0 0-15 1 5 0-1 1 3 0-1 1 9 0-1 1-1 0-3 1-3 0-6 1 0 0-2 1 1 0-2 1 0 0 8 1-6 0-1 1 2 0-1 1 8 0-7 1 9 0 2 1-3 0-4 1 2 0 2 1 6 0-15 1 2 0 4 1 5 0 5 1 0 0-3 1-15 0 6 1-6 0 0 1 7 0 2 1 4 0 2 1 4 0-4 1 1 0-17 1 3 0 6 1 2 0 4 1-2 0-4 1-4 0-2 1 0 0 10 1-2 0 0 1-11 0 14 1 2 0 3 1-3 0 4 1-4 0 0 1-4 0 0 1 3 0-4 1 4 0 5 1 0 0-1 1-7 0 8 1-4 0-8 1-4 0 2 1-5 0 8 1-2 0-2 1-6 0 6 1-4 0 1 1 3 0-3 1 1 0 1 1-2 0-2 1-1 0 1 1 3 0 0 1-2 0 14 1-10 0-1 1 13 0 3 1-16 0 0 1-2 0 12 1-2 0 5 1 0 0 3 1-3 0-4 1-10 0 7 1 6 0-14 1 0 0-3 1 8 0 14 1 0 0-3 1-9 0-10 1 11 0 7 1-19 0 11 1-9 0 2 1 6 0 11 1-2 0-16 1 0 0 14 1-10 0-7 1 6 0 13 1-2 0-6 1 3 0 3 1-3 0 3 1 4 0-12 1 6 0 2 1-1 0-11 1-3 0 4 1 4 0 2 1 5 0 4 1-10 0-6 1 9 0 2 1 0 0 2 1-7 0 9 1-4 0-3 1 7 0-1 1-19 0-2 1 3 0-1 1-1 0 3 1-2 0 3 1-4 0 1 1 0 0 13 1 2 0 4 1-11 0-8 1-1 0 14 1 1 0-3 1 4 0 1 1-18 0 1 1 4 0 7 1 8 0 0 1-13 0-4 1 3 0 9 1 4 0-1 1 0 0 0 1 1 0-14 1 13 0-9 1 4 0-1 1 4 0-4 1-12 0 1 1 7 0 2 1 5 0 2 1 1 0-1 1-7 0 2 1-7 0-3 1-1 0-1 1 9 0-6 1-4 0 7 1 7 0 3 1 0 0-18 1 7 0 8 1-6 0-6 1 9 0 5 1-8 0 0 1-3 0-1 1 12 0 1 1-5 0-7 1 2 0-7 1-1 0 0 1 0 0 8 1 10 0-13 1 10 0 0 1 2 0-3 1-2 0-9 1 6 0-3 1 0 0-1 1 9 0 1 1 0 0 2 1 0 0-5 1-4 0 6 1 2 0 0 1-7 0-3 1 10 0-9 1 7 0-3 1-6 0-1 1 2 0 0 1 4 0-2 1 9 0-2 1-4 0 3 1-9 0 1 1-4 0 3 1 9 0 2 1-1 0 2 1-6 0-11 1 1 0 15 1-2 0 1 1-3 0 2 1-12 0-2 1 1 0-1 1 1 0 3 1-5 0 3 1 0 0-1 1 2 0 2 1 2 0 2 1 2 0 4 1-14 0 2 1-2 0 2 1 12 0 0 1-11 0 1 1 10 0-2 1-8 0 7 1-4 0 2 1-4 0 8 1-11 0-4 1 2 0-1 1 9 0-8 1 0 0 7 1-1 0 0 1 3 0 0 1 4 0-7 1-7 0-1 1 2 0 2 1-2 0 13 1-6 0 7 1-8 0-5 1-2 0 1 1 2 0-2 1 10 0-3 1-8 0-1 1 0 0 2 1 6 0-6 1 1 0 4 1 9 0-14 1 5 0 6 1-9 0 1 1 9 0-7 1 5 0-2 1-1 0-7 1 1 0 10 1 1 0 0 1 1 0-1 1-4 0 4 1 0 0-1 1-3 0 0 1 3 0-2 1-6 0 5 1 4 0-2 1 3 0-2 1 3 0-1 1 1 0-2 1-8 0-6 1 6 0 1 1 1 0-2 1-6 0 8 1-2 0 9 1 1 0-2 1 2 0-5 1-11 0 2 1 0 0 4 1 1 0 8 1-6 0-9 1 0 0 3 1 7 0-5 1 2 0 11 1-18 0 11 1-10 0 3 1 0 0-4 1 0 0 1 1 1 0-2 1 4 0-3 1 1 0-2 1 7 0-5 1 1 0 0 1-2 0 7 1-4 0 8 1 2 0-6 1-8 0 1 1 13 0 5 1 0 0-2 1-9 0 0 1 6 0 5 1-8 0 9 1 1 0-4 1-16 0-1 1 21 0-12 1 4 0 8 1-3 0-14 1-4 0 1 1 0 0 19 1 2 0-1 1-18 0 0 1 2 0 7 1-2 0-9 1 20 0-1 1 2 0-21 1 18 0 0 1 3 0-2 1 2 0-6 1-7 0 2 1 9 0-20 1 3 0 8 1 2 0-12 1 14 0-2 1-12 0 4 1 4 0 6 1-12 0 7 1 10 0-13 1-5 0 17 1-18 0-2 1 5 0-3"/>
<path fill="none" stroke="none" marker-start="url(#iHKOH)" marker-mid="url(#iHKOH)" marker-end="url(#iHKOH)" d="M494 1102l3-5 3-1 3-1 3 2 3-3 3-1 3-3 3-3 3-5 3-6 3 5 3 0 3 2 3 0 3 2 3-1 3 0 3 0 3-6 3 1 3 1 3-3 3 0 3 1 3 4 3 3 3 0 3 0 3-3 3-2 3 1 3 2 3-1 3 4 3 1 3-3 3 2 3-5 3 1 3 3 3-3 3 0 3 4 3 0 3 3 3 1 3 0 3-1 3-1 3 0 3 2 3 0"/>
<path fill="none" stroke="none" marker-start="url(#iHKOH)" marker-mid="url(#iHKOH)" marker-end="url(#iHKOH)" d="M651 1118l3-1 3-1 3 0 3 2 3 1 3-4 3 4 3-1 3-3 3-2 3 1 3-2 3 2 3-2 3 5 3-4 3 0 3 1 3 3 3-6 3 0 3 0 3-1 3 2 3 1 3-1 3 2 3-1 3-1 3-3 3 4 3-4 3 1 3-1 3 3 3-1 3 1 3 3 3-1 3 2 3 2"/>
<path fill="none" stroke="none" marker-start="url(#iHKOH)" marker-mid="url(#iHKOH)" marker-end="url(#iHKOH)" d="M775 1341l3 0 3 1 3-3 3-4 3 0 3 0 3 5 3-2 3-4 3 4 3 0 3-2 3 4 3-4 3-2 3-1 3 3 3-1 3 3 3-3 3 7 3-3 3 3 3 1 3 0 3-1 3-4 3 0 3-3 3 0 3 0 3 1 3-3 3 0 3 3 3-4 3 6 3 3 3-2 3 2 3-3 3 0"/>
<path fill="none" stroke="none" marker-start="url(#iHKOH)" marker-mid="url(#iHKOH)" marker-end="url(#iHKOH)" d="M901 1121l3 0 3-1 3-1 3 0 3 0 3-2 3 0 3-2 3 0 3-1 3 0 3 1 3-2 3 0 3 1 3 0 3 0 3-1 3 0 3-1 3 1 3 0 3-1 3 0 3 0 3 0 3 0 3-1 3 0 3 0 3 0 3 0 3-3 3 0 3-2 3-1 3-1 3 1 3-2 3 2 3-4 3 1 3 2 3 0 3 3 3-5 3 1 3-1 3 4 3-3 3 3 3 3 3-2 3 1 3 1 3-2 3 2 3-3 3-2 3 4 3 2 3-3 3-3 3-2 3 1 3 0 3 0 3 3 3 2 3-1 3-6 3 5 3 3 3-3 3-5 3 0 3 5 3 3 3-1 3-7 3 1 3 2 3-2 3 0 3 1 3 0 3 2 3 1 3 3 3 0 3 0"/>
<path fill="none" stroke="none" marker-start="url(#iHKSL)" marker-mid="url(#iHKSL)" marker-end="url(#iHKSL)" d="M494 1105l1-9 1 9 1-4 2-5 1 2 1 4 1-1 1-7 2 0 1 5 1-6 1 5 1-5 2-7 1-2 1 2 1 3 1-8 2-2 1 0 1 7 1 4 1-6 2-2 1-7 1-2 1 0 1 5 2-5 1 4 1 1 1-4 1 1 2 0 1 1 1-2 1 6 1 4 2 2 1-10 1 0 1-2 1 0 2 14 1-6 1-5 1 4 1-7 2 7 1-8 1 2 1 2 1 10 2-3 1 4 1-1 1 1 1-12 2-2 1 4 1-2 1 2 1 1 2 0 1 1 1 5 1 2 1-3 2 3 1 0 1-6 1-5 1 3 2 10 1 0 1 0 1-1 1-1 2-4 1 7 1-7 1-4 1 1 2-3 1 10 1 1 1 1 1 0 2 0 1 1 1-2 1-5 1 6 2-3 1 3 1-11 1 1 1 5 2-1 1 7 1-11 1 4 1 4 2 3 1-3 1 2 1-3 1-4 2 0 1 0 1 8 1 0 1-7 2-1 1 0 1 7 1-5 1 1 2 7 1 1 1 2 1-2 1-6 2 1 1-3 1 6 1 2 1-4 2-3 1 1 1 2 1 8"/>
<path fill="none" stroke="none" marker-start="url(#iHKSL)" marker-mid="url(#iHKSL)" marker-end="url(#iHKSL)" d="M651 1115l1-2 1 2 1-2 2 7 1-7 1 3 1 6 1 0 2-3 1 1 1-4 1 2 1 3 2 1 1-2 1 0 1 1 1-3 2 2 1 1 1-2 1-9 1 3 2-3 1-1 1 2 1 10 1-3 2-2 1-4 1 3 1-1 1 6 2-11 1 5 1 4 1 2 1-1 2 1 1-3 1-8 1 8 1-6 2 8 1-3 1-5 1-3 1 6 2 3 1 1 1-2 1-3 1 3 2 3 1 0 1 1 1-1 1 0 2 0 1-7 1-4 1 11 1-4 2-8 1 4 1-5 1 0 1 5 2-4 1-1 1 0 1 0 1 0 2 0 1 2 1-2 1 0 1-1 2 3 1-2 1 1 1 0 1 5 2-5 1 3 1-4 1 2 1 1 2 4 1 0 1-3 1 10 1 1 2-2 1-5 1 5 1 2 1 0 2 1 1-2 1-2 1-4 1 6 2-4"/>
<path fill="none" stroke="none" marker-start="url(#iHKSL)" marker-mid="url(#iHKSL)" marker-end="url(#iHKSL)" d="M775 1338l1 5 1 2 1-3 2-3 1-1 1 7 1-6 1-3 2 3 1-1 1 7 1-10 1 1 2 1 1-3 1 3 1-5 1 6 2 1 1 3 1-1 1-9 1-2 2 8 1 0 1 1 1 4 1 1 2-2 1-6 1 5 1 1 1 1 2 1 1-1 1 0 1-5 1-6 2 2 1 4 1-8 1 4 1 6 2-4 1-3 1 1 1 10 1-9 2-2 1 3 1-1 1 10 1-11 2 4 1-3 1-1 1 0 1 1 2 1 1-1 1 0 1 5 1-2 2 3 1-1 1-1 1 2 1 4 2 0 1-11 1-1 1 0 1 0 2 7 1-8 1 2 1 7 1 0 2 1 1-10 1 0 1-1 1 13 2-3 1 2 1-3 1 3 1-1 2 2 1 0 1-2 1-5 1-8 2 2 1 4 1-5 1 7 1-5 2 3 1 7 1-7 1-3 1 9 2 4 1 0"/>
<path fill="none" stroke="none" marker-start="url(#iHKSL)" marker-mid="url(#iHKSL)" marker-end="url(#iHKSL)" d="M901 1120l1 1 1-2 1 1 2-1 1 3 1-5 1 0 1-1 2 2 1 3 1 0 1 0 1-1 2-6 1 6 1-1 1 0 1-6 2 1 1 5 1-4 1 4 1-1 2-2 1 2 1-3 1-4 1 2 2 4 1-3 1 4 1-7 1 2 2-3 1 4 1 3 1-1 1 0 2-1 1-2 1 3 1 0 1-1 2-1 1 2 1-1 1 0 1-4 2-1 1 2 1 4 1-1 1-5 2 3 1 1 1 0 1-3 1-2 2 2 1-2 1 3 1-1 1-1 2 1 1 1 1-3 1 3 1-3 2 1 1 4 1 0 1-1 1-6 2 1 1-1 1-1 1 0 1 7 2-1 1 2 1-1 1 1 1-4 2-2 1-3 1-2 1 1 1 5 2 0 1 2 1-8 1 4 1 3 2-5 1 8 1-5 1-5 1 1 2-4 1-1 1 2 1 9 1-1 2-1 1 4 1 0 1-1 1-6 2-5 1 2 1 1 1 9 1-3 2-2 1 3 1 2 1-13 1 1 2 1 1 5 1 1 1 3 1-4 2-6 1 7 1 4 1 1 1-9 2 5 1 2 1-2 1-7 1 1 2 9 1 0 1 0 1-2 1 1 2-6 1-3 1 3 1-3 1 2 2 5 1-6 1 5 1 5 1 0 2-3 1 4 1-5 1 0 1-3 2 4 1-4 1-5 1 0 1 0 2 4 1 8 1-2 1-6 1 2 2-7 1 9 1-6 1-4 1 4 2 0 1 4 1 2 1-6 1 5 2-7 1-1 1-1 1 1 1 10 2 0 1-2 1 1 1-9 1-3 2 12 1-2 1 1 1 3 1 2 2-12 1 6 1 3 1-11 1 4 2 4 1-1 1-4 1 2 1-4 2-1 1 8 1 2 1-1 1 1 2 2 1-5 1 0 1 5 1-12 2 9 1 5 1-7 1-4 1 6 2-2 1 4 1-5 1-4 1 9 2 2 1-8 1-3 1 0 1 6 2-5 1 0 1 2 1 1 1 4"/>
<path fill="none" stroke="none" marker-start="url(#iHKWS)" marker-mid="url(#iHKWS)" marker-end="url(#iHKWS)" d="M494 1114l0-8 1 5 0 11 1 2 0-1 1-7 0 5 1-2 0 0 1-9 0-9 1 16 0 6 1-8 0-11 1-5 0-1 1 10 0-10 1 8 0-8 1 4 0-2 1 1 0-2 1 24 0-16 1 8 0-12 1 8 0-8 1 19 0-12 1-12 0-4 1 1 0-4 1 21 0 4 1-2 0-7 1-16 0 0 1 11 0 8 1 7 0-22 1 3 0-4 1 8 0 17 1-21 0-10 1 8 0-8 1-3 0 1 1 1 0 6 1 13 0 11 1 1 0-22 1-9 0 4 1 5 0 16 1-23 0 9 1-4 0 3 1-6 0 8 1 4 0-11 1-8 0 6 1 1 0-6 1 16 0-6 1 14 0-3 1 6 0 3 1-1 0-3 1 4 0-30 1 26 0-9 1-16 0 10 1 7 0-4 1 11 0-5 1 8 0-6 1-21 0 1 1 25 0-14 1-4 0 18 1-1 0-15 1 3 0-13 1 1 0 12 1 9 0-7 1 0 0 3 1-13 0-6 1 12 0-8 1-1 0 4 1-6 0 11 1-10 0 10 1 11 0-17 1 9 0 7 1-21 0-2 1 26 0-2 1 1 0-9 1-10 0-3 1-1 0 14 1-10 0-6 1 7 0 2 1-8 0 24 1 0 0 0 1-12 0-13 1 11 0-7 1-3 0 4 1-1 0-2 1 7 0 2 1 15 0-12 1-13 0 7 1-7 0 12 1 11 0-6 1 6 0-17 1 14 0-7 1-6 0 5 1 4 0-4 1 8 0-16 1 8 0 5 1-9 0 3 1 1 0 6 1-6 0 3 1 5 0-17 1-2 0 14 1 2 0 2 1-8 0-11 1 17 0 5 1 2 0-5 1-12 0-5 1 1 0 1 1-4 0 5 1 2 0 4 1 8 0-1 1-3 0 2 1 6 0-3 1-2 0 2 1 2 0-2 1-8 0-8 1 10 0-3 1-7 0 0 1 20 0-9 1-9 0 11 1 7 0-1 1-6 0 6 1-14 0 10 1 3 0-15 1-7 0 15 1-7 0 5 1-10 0-2 1 17 0 0 1-9 0 4 1-12 0 5 1 2 0-7 1 9 0 7 1-13 0-2 1 1 0 8 1-3 0 16 1-11 0 11 1-21 0-1 1 9 0-10 1 2 0-1 1 2 0 2 1 16 0-8 1 0 0-8 1-1 0-1 1 7 0 12 1-6 0 3 1-6 0-7 1-2 0 18 1-10 0-5 1 15 0-19 1 7 0 12 1-8 0-6 1-4 0 7 1 12 0-3 1 3 0-7 1-7 0-3 1-1 0 15 1-12 0-3 1 12 0-12 1 3 0 3 1-4 0 0 1 0 0 12 1 1 0-1 1 0 0-5 1 3 0-8 1 2 0-5 1 1 0 7 1 1"/>
<path fill="none" stroke="none" marker-start="url(#iHKWS)" marker-mid="url(#iHKWS)" marker-end="url(#iHKWS)" d="M651 1131l0-4 1 6 0-15 1 13 0-6 1 6 0 4 1 0 0 0 1-3 0 1 1 2 0 0 1-3 0 1 1 3 0 1 1-3 0-9 1 4 0 2 1 4 0-2 1-13 0 1 1 1 0 15 1-4 0 4 1-1 0-18 1 0 0 0 1 9 0 5 1 3 0 0 1 2 0-9 1 4 0-7 1 3 0-11 1 2 0 10 1-1 0-5 1 1 0-6 1 8 0 4 1 9 0-1 1-5 0-12 1 14 0-16 1 18 0 1 1-5 0-14 1 0 0 21 1-14 0 4 1-10 0 12 1 7 0-4 1-14 0 8 1 0 0-13 1 8 0-1 1 8 0 10 1-7 0 6 1 1 0-5 1-7 0-7 1 18 0-2 1-22 0 3 1 2 0 16 1-18 0 5 1 11 0-13 1 15 0-2 1 4 0-10 1-13 0 6 1 5 0-10 1-1 0 15 1 6 0 1 1-7 0-2 1 7 0-17 1-4 0 1 1 7 0 10 1 2 0 1 1-14 0-6 1 0 0 8 1-6 0 5 1 15 0-13 1 11 0 3 1-2 0-1 1 3 0-5 1 0 0-19 1 0 0 10 1-10 0 10 1 14 0-2 1 2 0-7 1-8 0 13 1 2 0-1 1-4 0 2 1-15 0-6 1 1 0 0 1 15 0-13 1 8 0-9 1-1 0 1 1 0 0 0 1 1 0-2 1 4 0 11 1 6 0-10 1 7 0 4 1-8 0 3 1-1 0-8 1-4 0 9 1 8 0-5 1 5 0 0 1-8 0-9 1 9 0-11 1-4 0 25 1-19 0 0 1-6 0 6 1-5 0 4 1 5 0 5 1-13 0-1 1 1 0 21 1-8 0-14 1 4 0-5 1 2 0 15 1-17 0 22 1-16 0 18 1-13 0 8 1-14 0 17 1 0 0 0 1 1 0-2 1 0 0-5 1 5 0-17 1-1 0 6 1-7 0 6 1 9 0 6 1-11 0 0 1-8 0 0 1 2 0 10 1-12 0 6 1 0 0 8 1-8 0-5 1 17 0 0 1-8 0-6 1 8 0-7 1-6 0 4 1-3 0 0 1 4 0-1 1 10 0 3 1-1 0-12 1 4"/>
<path fill="none" stroke="none" marker-start="url(#iHKWS)" marker-mid="url(#iHKWS)" marker-end="url(#iHKWS)" d="M775 1356l0-6 1-1 0-8 1 2 0-1 1 11 0-11 1-1 0 1 1 10 0-4 1 5 0-4 1 7 0-1 1 0 0-5 1 5 0-7 1 6 0-13 1-1 0 2 1 4 0-6 1 6 0-3 1-3 0 8 1-3 0-2 1-2 0 0 1 0 0-1 1 17 0-3 1 2 0-1 1-4 0 6 1-6 0 1 1 5 0-2 1 1 0 0 1-12 0-4 1 0 0 0 1 6 0-6 1 2 0 6 1-8 0 8 1-3 0 11 1 1 0-3 1 2 0-1 1 2 0 0 1-4 0-1 1-11 0 2 1-1 0 7 1-6 0 14 1 0 0 2 1-17 0-3 1 10 0 3 1 4 0-3 1 4 0-18 1 20 0-5 1-2 0 5 1-10 0 5 1-4 0 11 1-10 0-1 1-5 0 0 1 1 0 5 1 6 0 2 1-4 0 1 1-3 0-3 1 10 0-4 1-12 0 0 1 12 0-10 1-1 0 3 1 4 0 0 1 3 0-7 1-3 0 5 1-7 0 2 1 1 0-2 1 13 0 2 1-12 0-5 1 2 0-1 1-1 0 2 1 6 0 5 1 7 0-9 1-7 0 16 1-4 0 4 1-7 0 5 1-17 0 6 1-6 0 0 1 4 0-1 1-3 0 0 1 1 0 18 1-9 0-7 1 5 0 0 1 4 0-3 1 5 0 2 1 1 0-6 1-7 0-4 1 8 0-2 1 4 0 5 1-8 0-7 1 9 0 3 1-7 0 7 1 0 0-11 1 5 0 11 1-1 0 2 1-1 0-5 1 5 0 2 1-3 0 2 1-5 0-8 1-3 0 10 1 7 0-6 1 2 0 0 1-1 0-4 1 8 0 0 1-4 0-13 1 8 0-7 1 10 0 6 1-12 0 2 1-6 0-4 1 10 0 0 1-4 0 4 1-2 0-3 1 14 0-6 1-1 0 5 1-12 0 10 1 5 0 1 1-1 0-2 1-14 0-3 1 8 0-6 1 15 0-1 1-8 0 1 1 5 0-7 1 10 0-10 1-5 0 4 1 7 0 2 1-3 0 6 1-14 0-2 1 4 0 11 1-3 0-6 1 1 0-1 1 9 0-5 1 3 0-11 1 12"/>
<path fill="none" stroke="none" marker-start="url(#iHKWS)" marker-mid="url(#iHKWS)" marker-end="url(#iHKWS)" d="M901 1133l0 0 1-7 0 5 1 4 0 2 1-4 0 0 1-3 0-10 1 11 0 7 1-2 0-4 1-6 0 1 1 6 0 5 1 0 0-1 1-4 0-4 1 9 0-20 1 0 0 3 1 3 0 3 1-1 0-8 1 3 0-1 1 1 0 5 1-8 0 5 1 0 0 4 1-10 0 2 1 13 0 4 1-3 0-13 1 7 0 8 1 1 0 1 1-19 0-3 1 0 0 9 1-9 0 12 1-9 0-3 1 4 0 7 1 7 0 4 1 1 0-2 1-8 0 3 1-16 0-1 1 13 0-13 1 8 0-9 1 14 0-9 1-5 0 1 1 6 0 4 1-9 0 2 1-1 0 16 1 3 0-3 1 1 0 4 1-22 0-2 1 4 0 9 1 4 0 7 1-25 0 3 1 3 0 20 1-1 0-7 1 2 0-4 1 3 0-3 1 3 0-7 1-8 0 20 1 2 0-9 1 1 0 2 1 6 0-11 1 8 0-23 1 9 0-8 1 25 0-2 1 0 0-1 1 1 0-10 1-9 0 16 1-6 0 3 1-3 0 9 1 1 0-2 1-3 0-9 1 12 0 1 1-3 0-1 1-21 0 8 1 12 0-8 1-6 0-6 1 7 0 4 1 4 0-8 1-6 0 2 1 14 0 2 1 6 0-5 1 6 0-11 1 1 0 8 1-12 0 6 1-17 0 4 1 7 0 2 1 8 0 4 1-13 0 8 1 5 0-11 1-1 0 11 1 0 0-10 1 9 0-17 1-1 0 7 1-9 0 10 1-2 0-13 1 1 0 1 1 1 0 2 1-5 0-1 1 10 0 17 1-17 0-1 1 14 0-20 1-1 0 12 1 11 0-24 1 1 0 7 1 17 0-1 1-3 0-11 1 2 0-9 1 19 0-20 1 2 0 3 1-2 0-3 1 22 0-18 1-2 0 13 1-18 0 0 1 15 0 8 1 4 0 0 1-9 0 9 1-12 0 11 1 0 0-24 1 23 0 0 1-1 0-3 1 4 0-20 1-2 0-3 1 10 0 5 1 11 0-11 1-9 0 6 1-1 0 5 1-6 0 7 1 3 0-2 1-19 0 8 1-8 0 18 1-12 0 3 1-7 0 0 1 8 0-10 1 1 0 1 1 8 0-4 1 7 0 11 1-11 0 1 1-8 0-4 1 5 0 15 1-3 0-15 1 2 0-2 1-1 0 1 1 22 0 0 1-3 0 4 1-9 0-13 1 6 0-10 1 9 0-10 1 1 0 16 1 5 0 4 1-4 0-3 1 1 0-10 1 14 0-5 1 3 0-17 1-1 0 9 1-4 0-3 1 18 0-9 1-13 0 7 1-5 0-4 1 2 0 0 1 21 0 0 1 1 0-1 1 0 0-10 1-6 0-4 1 5 0 5 1 11 0-10 1 4 0-8 1-8 0 9 1 10 0-8 1-12 0 0 1 5 0-5 1 17 0 7 1-3 0-4 1-12 0-4 1 4 0 5 1-3 0-7 1-1 0 17 1-7 0 7 1 3 0 2 1 1 0 1 1-14 0-8 1 19 0-10 1 12 0-7 1-3 0 7 1-12 0-7 1 0 0 13 1-6 0-2 1 5 0 7 1 1 0-1 1 5 0-4 1 5 0-7 1-16 0 5 1 14 0-3 1 6 0 0 1-5 0 4 1-3 0-6 1-8 0 6 1 10 0-4 1-17 0 17 1 6 0-12 1-9 0 7 1-3 0-5 1 1 0 20 1-10 0-4 1 12 0-15 1 2 0-2 1 14 0-11 1-5 0-3 1 22 0-12 1 5 0-14 1 6 0-7 1-1 0 8 1 2 0-8 1 7 0 1 1 6 0 7 1-13 0-9 1 9 0 7 1 5 0-1 1-4 0 2 1-1 0-8 1-8 0 7 1-1 0-3 1 2 0-5 1 0 0 7 1 0 0 10 1 2 0 0 1-6 0-3 1 8 0-16 1 2 0 1 1-5 0 9 1 8 0-8 1 4 0-4 1 11 0-9 1-13 0 0 1 2 0 8 1-10 0 4 1-1 0 15 1 1 0-19 1 9 0 10 1-12 0 5 1 10 0-8 1 8 0-13 1-1 0 9 1-2 0 4 1 1 0-15 1-1 0 0 1-4 0 15 1-11 0 6 1 3 0-9 1 6 0 11 1 0 0-3 1-5 0 7 1 0 0-2 1-14 0-4 1 1 0 13 1 5 0 1 1 0 0 1 1-6 0-2 1-9 0 14 1-13 0-3 1 2 0 8 1 7 0-15 1-3 0 5 1 12 0-4 1 3 0 2 1-2 0-4 1-4 0 0 1-5 0 10 1-13 0 0 1 3 0 3 1 8 0 6 1-1 0-1 1-6 0 8 1 0 0-3 1-4 0 4 1-8 0 5 1 3 0-9 1 5 0-10 1 4 0 3 1 8 0-17 1 8 0-4 1-5"/>
<path fill="none" stroke="none" marker-start="url(#iMAJU)" marker-mid="url(#iMAJU)" marker-end="url(#iMAJU)" d="M494 1242l2-2 1-1 1 0 2 0 2 0 1 5 1 1 2 4 2-1 1 2 1-8 2 0 2 1 1 0 1-3 2 3 2-1 1-1 1-1 2-3 2-4 1-7 1 1 2-1 2-1 1-7 1 1 2 1 2 1 1 3 1-6 2-3 2 2 1 1 1-3 2 0 2-1 1 0 1 4 2 0 2-1 1-2 1-1 2 5 2-2 1 1 1-3 2-1 2 6 1 4 1 0 2-5 2 5 1 0 1-2 2-6 2 0 1 7 1 1 2-2 2 1 1 0 1-5 2 1 2 1 1 3 1 0 2-3 2 4 1-6 1 0 2 3 2-1 1-4 1-2 2 4 2 4 1 1 1-5 2 4 2 1 1-2 1-6 2 0 2-1 1 3 1-3 2 0 2 1 1 2 1 5 2-1 2-2 1-3 1 5 2 0 2-1 1 0 1-1 2 0 2-8 1 8 1 1 2-2 2 1"/>
<path fill="none" stroke="none" marker-start="url(#iMAJU)" marker-mid="url(#iMAJU)" marker-end="url(#iMAJU)" d="M651 1253l1-1 2 0 2 3 1-2 1 4 2-4 2-2 1 3 1 1 2 0 2-2 1-3 1 0 2 1 2-3 1-1 1 1 2-2 2 9 1 0 1-2 2 2 2-4 1-5 1 1 2-2 2 1 1-1 1 2 2 1 2-4 1 1 1 3 2-2 2 3 1 4 1-1 2 0 2 0 1 1 1-10 2 3 2-1 1-1 1 2 2 3 2-6 1 0 1 1 2 6 2-4 1 5 1 0 2 0 2-1 1 2 1-5 2-3 2 7 1-1 1-8 2-1 2 1 1 1 1 1 2-3 2 1 1 4 1-4 2-1 2 5 1 4 1-4 2 0 2 4 1-4 1 6 2 0 2 1 1-3 1 4 2-1 2-2"/>
<path fill="none" stroke="none" marker-start="url(#iMAJU)" marker-mid="url(#iMAJU)" marker-end="url(#iMAJU)" d="M775 1463l1 8 2 0 2-5 1-4 1 2 2-1 2 3 1 0 1 0 2 4 2-5 1 1 1 5 2-8 2 2 1 2 1-2 2 3 2 3 1-2 1 3 2 2 2 4 1 4 1 1 2-6 2 0 1 1 1 0 2 2 2 6 1-2 1 0 2 0 2 0 1 0 1-3 2 0 2 2 1 1 1-1 2 0 2-3 1-3 1-3 2 1 2 3 1-1 1-4 2 3 2-1 1-1 1 6 2-7 2 1 1 0 1 2 2 5 2-2 1 2 1 1 2-1 2-1 1 0 1 1 2-4 2-2 1 6 1-2 2-2 2-1 1 6 1-8 2-1 2 1 1-1 1 5 2 4 2-2 1-4 1 6 2 0 2-1 1-1"/>
<path fill="none" stroke="none" marker-start="url(#iMAJU)" marker-mid="url(#iMAJU)" marker-end="url(#iMAJU)" d="M901 1264l1-5 2-1 2 0 1 6 1 0 2-1 2-2 1-3 1-7 2 6 2 0 1-8 1-1 2 2 2 1 1 0 1-5 2-1 2 3 1 5 1-6 2 3 2 6 1 0 1-3 2 4 2-5 1 3 1 3 2-2 2 2 1-7 1 7 2 0 2 0 1-2 1 2 2 1 2 2 1-8 1 0 2 4 2-1 1-2 1-1 2 0 2 7 1 0 1-1 2 0 2 0 1-2 1-3 2-3 2-2 1 7 1-3 2-5 2 4 1 3 1-6 2-4 2 1 1 2 1 4 2-7 2-2 1 5 1 3 2-2 2-2 1 3 1 0 2-1 2-10 1 3 1 4 2-2 2 1 1 1 1-5 2-1 2 3 1-6 1-2 2 0 2 1 1 0 1 7 2-5 2 1 1 7 1 0 2-2 2 1 1-2 1 1 2 1 2 1 1 1 1-2 2-7 2 2 1-1 1 0 2 0 2 1 1 2 1 6 2 0 2-2 1-1 1-2 2-2 2 2 1 6 1 1 2-7 2 1 1-2 1 1 2 2 2-3 1 7 1 2 2-4 2-1 1-1 1 1 2-2 2 8 1 0 1-8 2 0 2 1 1-1 1 5 2 3 2 0 1 2 1-2 2 2 2-6 1 3 1 3 2-2 2-7 1 2 1-2 2 5 2-1 1-2 1 2 2-1 2 3 1-6 1-1 2 7 2-6 1 1 1-1 2 4 2 1 1 1 1-6 2 5 2 1 1 1 1-2 2 2 2-6 1 2 1 4 2 0 2 0 1-3 1 2 2-7 2 4 1-2 1 0 2-4"/>
<path fill="none" stroke="none" marker-start="url(#iNAUR)" marker-mid="url(#iNAUR)" marker-end="url(#iNAUR)" d="M494 1273l2-1 1-1 1 0 2 1 2 0 1 0 1-2 2 0 2 1 1-4 1 2 2 1 2-4 1-5 1 0 2 2 2 5 1 0 1-2 2-4 2-1 1-2 1 1 2 6 2-2 1-8 1 0 2 4 2 3 1-6 1-1 2 6 2 0 1 1 1-1 2-1 2 0 1 0 1-6 2-2 2 7 1-3 1-4 2-2 2 8 1-1 1 0 2 1 2-5 1 4 1 0 2-1 2-8 1 1 1-1 2 3 2 4 1-1 1 1 2 0 2-1 1 1 1-5 2 0 2-5 1 2 1 0 2 1 2 6 1-4 1 1 2-4 2 6 1-1 1-2 2-4 2 1 1-1 1 2 2 0 2 4 1-2 1-6 2 1 2-1 1-1 1 2 2 4 2-5 1 0 1 1 2-2 2 0 1 5 1-3 2 1 2-3 1 7 1-2 2 1 2 1 1-6 1-1 2 2 2 4"/>
<path fill="none" stroke="none" marker-start="url(#iNAUR)" marker-mid="url(#iNAUR)" marker-end="url(#iNAUR)" d="M651 1275l1-2 2 1 2 5 1 0 1-1 2-2 2-2 1 1 1 0 2 0 2 3 1-2 1 3 2-6 2 4 1-3 1 2 2 3 2 1 1-2 1-4 2 1 2-3 1 0 1 3 2 5 2 1 1-1 1-4 2 4 2-3 1-4 1-1 2 0 2 6 1 2 1 0 2-6 2-2 1 0 1 1 2 3 2 2 1 2 1 0 2-6 2-2 1 2 1 1 2 3 2 0 1 0 1 2 2-3 2 2 1-6 1 7 2-2 2 2 1-5 1-1 2 6 2-2 1-6 1-1 2 1 2 6 1-7 1 0 2 1 2-1 1 5 1 0 2 2 2 1 1-2 1 2 2-1 2-2 1 2 1-5 2 2 2-4"/>
<path fill="none" stroke="none" marker-start="url(#iNAUR)" marker-mid="url(#iNAUR)" marker-end="url(#iNAUR)" d="M775 1500l1-5 2 0 2 0 1 1 1 2 2-1 2 5 1-2 1 2 2-3 2-1 1 3 1-1 2-2 2 4 1-3 1-1 2 2 2 0 1 0 1 1 2 3 2-4 1 3 1 2 2-2 2 5 1-1 1-7 2 2 2 6 1 0 1 0 2-1 2-7 1 0 1 0 2-1 2 3 1 5 1-1 2-1 2 1 1-3 1-4 2 0 2 7 1-1 1-2 2-4 2-1 1 4 1 3 2-6 2-1 1-1 1 3 2 4 2 0 1-7 1 1 2 6 2-7 1 0 1 0 2 0 2 0 1 0 1 1 2 5 2 1 1-8 1 3 2-4 2 4 1-3 1 3 2 0 2 1 1 4 1-1 2 0 2 0 1 0"/>
<path fill="none" stroke="none" marker-start="url(#iNAUR)" marker-mid="url(#iNAUR)" marker-end="url(#iNAUR)" d="M901 1281l1 0 2 0 2 4 1 0 1-3 2 4 2 0 1-3 1 3 2-2 2 0 1 0 1-6 2 1 2 2 1 4 1-1 2 0 2 0 1-1 1 1 2-1 2-7 1 0 1 0 2 1 2 6 1-1 1 0 2-1 2 0 1 1 1 0 2-1 2-5 1 1 1-3 2 7 2-3 1-5 1 6 2 2 2-2 1-2 1-1 2-5 2 4 1 2 1-6 2 1 2 0 1 0 1-1 2 5 2 3 1-6 1 2 2-4 2-1 1 5 1 3 2 0 2 0 1-5 1-1 2-2 2 3 1-4 1 3 2-3 2 1 1 5 1-5 2 2 2 0 1-3 1-1 2 4 2-1 1-2 1 2 2 4 2 0 1 0 1 0 2 0 2-4 1 4 1-5 2 4 2 1 1-1 1-5 2-2 2 0 1 0 1 6 2-7 2 3 1-2 1 3 2-3 2 1 1-2 1 0 2 1 2 4 1-4 1 4 2 1 2 2 1-3 1-2 2-4 2 6 1 1 1 0 2-7 2 0 1 0 1 4 2-1 2 1 1 2 1-3 2 2 2-1 1-3 1 1 2-1 2-1 1 4 1-4 2 1 2 5 1 1 1 0 2 0 2-8 1 3 1 2 2 4 2-1 1 0 1-7 2-1 2 1 1 5 1-5 2-1 2 2 1-2 1 0 2 1 2 0 1 1 1 1 2-2 2-1 1 0 1 5 2-4 2 4 1 0 1-6 2 3 2-3 1 7 1-7 2 1 2-1 1 5 1 2 2-7 2 0 1 4 1 4 2-4 2 2 1 2 1-6 2-1"/>
<path fill="none" stroke="none" marker-start="url(#iNNOR)" marker-mid="url(#iNNOR)" marker-end="url(#iNNOR)" d="M494 1251l0 17 1-26 1-2 0 1 0 11 1-9 1 0 0 7 0 3 1 15 1-2 0 0 0-1 1 1 1-3 0-9 0-12 1 15 1-14 0 13 0 11 1-9 1-15 0 2 0 3 1-4 1 4 0-4 0 0 1 11 1-8 0 0 0-2 1 5 1 8 0 6 0-19 1 1 1-1 0 3 0 16 1-6 1-2 0 7 0-17 1 19 1-17 0 5 0-9 1 6 1-2 0 3 0 7 1 1 1-22 0 8 0 14 1 5 1-13 0 3 0 4 1 2 1-31 0 13 0 1 1 4 1-13 0 4 0 1 1-6 1 2 0-9 0 3 1-2 1-2 0 4 0 16 1-18 1-1 0 6 0 29 1-3 1-8 0 4 0-15 1 8 1 9 0-25 0 28 1-6 1 2 0 4 0-7 1 7 1-14 0 9 0-3 1-5 1-13 0 14 0-5 1 3 1 10 0-6 0-9 1 18 1-23 0 21 0-3 1-28 1 24 0-17 0-2 1 13 1 4 0-28 0 25 1 8 1-5 0-3 0 11 1-14 1 12 0-20 0 17 1 5 1-3 0 4 0-9 1 4 1-12 0 13 0 0 1-1 1 4 0-1 0-35 1 2 1-1 0 7 0 2 1-4 1 11 0-17 0 17 1 14 1-21 0-1 0 1 1-8 1 1 0-3 0 2 1 5 1-1 0-7 0 2 1 13 1 8 0 10 0-18 1-13 1-3 0 18 0 18 1-19 1 18 0-7 0-7 1-16 1 22 0-24 0 18 1 5 1 2 0-17 0 17 1 1 1-26 0 24 0 1 1-9 1 13 0-3 0 6 1-14 1-21 0 18 0-9 1-2 1-4 0 11 0 13 1-20 1-3 0 28 0-17 1 16 1-12 0 2 0-1 1-11 1 9 0-4 0 9 1 2 1 1 0-3 0-1 1-1 1 11 0-2 0 0 1-21 1 9 0 11 0-15 1 9 1-12 0 22 0-2 1-9 1 11 0-5 0 3 1-22 1 18 0 5 0-3 1-5 1 9 0-8 0 7 1-12 1 10 0 1 0-29 1 2 1 19 0 2 0 3 1-27 1 0 0 13 0 10 1-15 1 19 0-10 0 5 1-9 1 9 0-9 0 15 1-20 1 5 0-4 0-3 1-7 1 4 0-1 0 6 1 1 1-6 0 17 0 1 1 1 1 1 0-18 0-7 1 3 1 24 0-27 0 30 1-8 1-11 0 0 0-2 1-4 1-3 0 4 0 8 1 18 1-9 0 4 0-19 1-10 1 8 0-3 0 0 1 12 1-17 0 11 0 11 1-22 1 8 0-8 0 5 1 1 1-6 0 15 0 8 1 11 1-1 0-1 0-6 1-9 1 12 0-22 0-1 1 27 1-9 0-6 0 6 1 2 1-19 0 10"/>
<path fill="none" stroke="none" marker-start="url(#iNNOR)" marker-mid="url(#iNNOR)" marker-end="url(#iNNOR)" d="M651 1265l1-12 0 2 0 0 1 2 1 4 0 15 0-19 1 8 1-1 0-1 0-11 1 10 1-10 0 0 0 14 1-9 1-1 0 5 0 0 1 1 1 14 0-1 0-15 1 16 1-2 0-16 0 6 1-1 1-12 0 13 0-3 1-8 1-2 0 1 0 8 1-2 1 4 0-11 0 2 1 11 1 2 0-13 0 12 1 8 1 0 0 1 0-4 1-15 1 19 0-16 0-2 1-7 1 6 0-2 0-1 1 7 1-7 0 1 0 19 1 3 1-26 0 3 0-1 1 23 1-10 0-14 0 10 1 15 1 2 0-6 0 3 1 1 1-3 0 1 0-25 1 12 1-10 0 6 0 14 1 4 1 2 0-12 0 12 1-26 1-1 0 4 0-3 1 12 1 7 0-10 0 9 1-2 1-1 0 7 0 4 1 0 1 0 0-12 0 4 1 5 1-9 0-9 0-1 1 22 1 0 0-18 0-2 1 7 1 12 0-19 0 18 1 1 1-26 0 6 0 0 1-4 1-3 0 2 0-1 1 0 1 18 0 1 0 0 1-4 1 2 0-8 0 0 1 17 1-2 0-24 0 2 1 11 1-2 0-11 0 2 1 14 1-18 0 0 0 3 1 21 1-15 0-10 0 1 1 0 1 7 0-7 0 25 1 0 1-10 0 12 0-2 1 4 1-7 0 5 0-17 1-12 1 1 0 5 0 1 1 7 1 13 0-24 0 0 1 17 1 11 0-5 0-22 1-3 1 5 0-2 0 1 1 9 1-9 0 7 0-10 1-2 1 1 0 2 0 0 1 2 1 0 0 0 0-2 1 17 1-6 0 16 0 0 1-2 1-14 0-14 0 4 1-4 1 17 0 13 0-6 1 7 1-3 0 1 0-10 1-14 1-4 0 2 0 2 1 18 1-8 0-9 0 21 1-3 1 4 0 0 0-8 1-1 1 6 0 1 0-6 1-6 1 12 0-8 0 9 1 2 1-2 0-2 0-15 1 1 1-12 0 3 0 7 1 8 1-3 0-12 0 27 1-10 1-3 0 3 0 7 1-11 1 14 0 0 0-26 1 1 1 1 0 9 0 16 1-3 1-3 0 3 0 0 1 2 1-1 0 1"/>
<path fill="none" stroke="none" marker-start="url(#iNNOR)" marker-mid="url(#iNNOR)" marker-end="url(#iNNOR)" d="M775 1493l1 2 0 4 0-22 1 4 1 16 0-17 0 6 1 3 1 11 0-32 0-1 1-2 1 1 0 1 0-2 1 23 1 12 0 0 0 0 1-34 1 14 0-11 0 3 1 11 1 4 0-2 0-17 1 22 1 7 0 2 0-6 1-1 1-3 0 9 0-3 1 6 1-7 0 2 0 4 1-10 1 3 0-2 0 0 1 7 1-12 0 16 0 1 1-2 1-28 0 1 0 3 1 3 1-4 0-8 0 30 1-5 1-5 0-17 0 0 1 6 1 7 0 0 0 12 1-11 1-11 0 18 0 9 1-4 1-5 0 7 0-18 1 8 1 2 0 13 0 0 1-5 1-4 0 4 0 3 1 2 1-1 0 1 0-2 1-4 1-13 0 17 0-1 1 1 1-14 0 16 0-3 1 0 1-3 0-18 0 7 1-5 1-1 0 23 0-2 1-5 1 4 0-15 0 9 1-6 1 7 0-8 0 14 1 1 1-14 0 13 0-17 1 19 1-14 0-11 0 4 1 9 1-13 0 16 0 4 1 3 1-24 0 0 0 5 1 6 1-5 0 17 0-18 1 20 1-2 0-22 0 3 1-3 1 3 0 3 0 6 1-5 1-8 0-1 0 9 1 7 1-16 0 0 0 16 1 8 1 0 0-3 0-11 1 15 1-14 0-4 0-2 1 11 1 2 0 7 0-23 1-3 1 7 0 3 0-9 1 13 1 8 0 1 0-21 1 3 1 1 0-5 0-1 1 8 1 17 0-10 0-13 1-1 1 2 0 11 0 10 1 1 1-1 0-20 0-2 1-2 1 2 0 4 0 19 1-7 1 6 0-3 0-1 1-16 1 2 0 5 0 12 1-9 1-11 0-2 0-1 1 2 1 11 0-9 0 6 1 3 1 10 0-22 0-2 1 1 1-1 0 10 0-9 1 2 1 7 0 14 0 1 1-1 1-1 0-2 0 4 1-9 1-15 0 1 0 2 1 2 1 2 0-2 0 8 1-3 1 14 0-1 0-4 1-4 1 6 0 3 0-5 1-8 1-12 0 8 0 15 1 1 1-2 0-1 0 1 1-13 1 5 0-13 0 4 1-1 1-2 0 12 0 2 1 0 1-12 0-2 0-2 1 15"/>
<path fill="none" stroke="none" marker-start="url(#iNNOR)" marker-mid="url(#iNNOR)" marker-end="url(#iNNOR)" d="M901 1262l1 2 0 19 0-16 1-6 1 2 0 18 0-2 1-7 1 3 0 6 0-6 1-4 1 11 0-17 0-4 1 4 1 9 0-15 0 0 1-2 1 7 0 6 0-7 1-8 1 3 0 7 0 6 1-12 1 7 0 3 0-11 1 12 1 10 0-3 0-22 1 1 1-4 0 3 0 14 1-12 1-3 0 7 0-4 1-6 1 13 0 1 0-1 1 4 1 9 0-20 0 6 1 11 1 6 0-20 0 0 1-10 1 2 0 8 0-6 1 1 1 1 0 7 0 0 1-2 1-10 0 8 0-5 1 3 1 11 0-12 0 1 1 11 1-13 0 1 0-1 1 3 1-5 0 14 0 12 1 0 1 0 0-27 0 6 1 14 1 1 0-8 0 10 1 4 1-10 0-6 0 13 1 2 1-6 0 3 0-4 1-9 1-3 0 11 0-4 1 11 1-3 0-11 0 1 1-3 1-5 0 20 0-22 1 19 1-4 0-6 0-1 1 1 1 11 0 3 0 0 1 0 1-5 0-12 0 15 1-13 1-5 0 5 0 10 1 0 1-11 0-3 0 4 1 2 1-7 0 4 0-5 1 4 1 1 0-4 0 0 1 11 1-9 0-4 0 3 1-3 1 15 0 2 0 0 1-1 1-11 0-6 0 0 1 3 1 0 0-2 0 0 1-1 1 20 0-1 0-17 1-4 1 0 0 0 0 16 1-7 1-6 0-1 0-1 1 3 1-1 0 16 0-10 1-9 1 3 0 16 0-8 1 11 1-5 0-19 0 7 1-4 1-1 0-1 0 14 1-6 1 15 0-23 0 0 1-1 1-1 0 0 0 2 1-2 1 11 0-12 0 17 1 7 1-2 0 0 0-5 1-15 1 6 0 6 0 10 1 1 1 0 0 1 0-28 1 14 1 4 0 7 0 2 1-1 1-10 0 11 0-3 1-14 1 17 0-22 0 4 1 13 1 4 0 1 0 0 1 0 1 0 0-3 0 3 1 0 1-18 0 7 0-1 1-14 1 11 0 9 0-17 1 6 1-11 0 16 0-13 1 12 1-16 0 7 0-5 1 24 1-12 0 11 0-13 1 15 1-25 0-7 0 0 1 10 1 5 0-8 0 22 1 3 1-1 0-13 0-4 1 13 1 5 0-13 0-3 1-2 1-7 0 12 0-19 1 12 1 20 0-17 0 0 1-13 1 12 0 18 0-22 1 21 1 1 0-9 0 7 1 1 1-13 0 12 0-11 1-17 1 26 0 2 0 0 1-7 1-10 0 6 0-10 1 8 1-5 0-5 0-6 1 4 1-2 0 1 0 27 1-10 1 10 0-1 0-8 1 10 1-9 0 9 0-2 1 0 1-7 0 1 0-3 1 9 1-5 0 3 0 3 1-12 1 10 0-7 0-8 1 3 1-13 0 9 0-2 1 11 1 8 0 0 0-14 1-8 1 13 0-17 0 8 1 8 1 11 0-6 0 5 1-9 1 2 0 1 0-14 1 5 1 9 0 2 0 2 1 2 1-14 0-10 0-1 1 2 1 12 0-8 0-1 1-1 1-3 0-1 0 0 1 24 1 0 0-18 0-5 1 0 1 6 0 8 0-3 1-3 1-3 0-4 0 5 1 9 1-5 0-10 0 9 1-9 1 6 0 3 0-7 1-2 1 18 0 6 0-4 1-12 1-7 0 1 0 4 1-5 1 0 0 11 0 6 1 0 1 1 0 5 0 0 1-20 1 0 0 7 0 6 1-2 1 6 0 0 0-6 1-10 1-1 0 1 0 15 1-8 1 10 0 2 0-20 1 2 1-4 0 22 0 0 1-16 1 0 0-1 0 0 1 1 1-4 0 2 0-3 1 2 1-2 0 4 0 13 1-3 1-10 0-2 0-3 1 9 1 11 0 2 0 0 1-3 1-2 0-9 0 11 1 2 1-9 0-2 0 4 1 5 1-6 0 8 0-1 1-6 1 2 0-7 0-2 1-4 1 10 0-7 0-1 1-4 1 0 0 0 0 4 1 8 1 8 0 0 0-18 1 18 1-8 0-12 0 0 1 8 1-1 0-2 0 1 1 3 1 0 0 5 0 5 1 1 1-2 0-7 0 8 1-1 1-4 0-7 0 6 1 2 1-9 0 1 0 0 1-6 1 5 0 11 0 2 1-5 1-4 0 7 0-18 1 11 1 2 0 2 0 6 1-1 1-2 0-5 0-11 1 2 1 17 0-5 0 4 1 0 1 0 0-4 0 5 1-9 1 8 0-2 0-1 1 2 1 0 0-3 0-8 1 3 1 9 0-7 0-14 1 16 1-3 0 2 0 2 1 4 1 0 0-13 0-5 1-2 1 19 0-1 0-6 1 7 1 1 0 0 0-3 1 1 1-5 0 0 0-4 1 9 1-13 0-7 0 4 1 8 1 9 0-12 0 13 1-14 1-6 0 18 0-15 1 15"/>
</g>
<g stroke="#000" fill="none" stroke-linecap="butt">
<line x1="297.6" y1="285" x2="297.6" y2="1752" stroke-width="6.5"/>
<line x1="265" y1="1735.7" x2="2250" y2="1735.7" stroke-width="6.3"/>
<line x1="265" y1="288.8" x2="298" y2="288.8" stroke-width="6.3"/>
<line x1="265" y1="771.0" x2="298" y2="771.0" stroke-width="6.3"/>
<line x1="265" y1="1253.2" x2="298" y2="1253.2" stroke-width="6.3"/>
<line x1="281" y1="529.9" x2="298" y2="529.9" stroke-width="6.3"/>
<line x1="281" y1="1012.1" x2="298" y2="1012.1" stroke-width="6.3"/>
<line x1="281" y1="1494.3" x2="298" y2="1494.3" stroke-width="6.3"/>
<line x1="474.7" y1="1733" x2="474.7" y2="1767.5" stroke-width="6.5"/>
<line x1="829.2" y1="1733" x2="829.2" y2="1767.5" stroke-width="6.5"/>
<line x1="1183.6" y1="1733" x2="1183.6" y2="1767.5" stroke-width="6.5"/>
<line x1="1538.1" y1="1733" x2="1538.1" y2="1767.5" stroke-width="6.5"/>
<line x1="1892.6" y1="1733" x2="1892.6" y2="1767.5" stroke-width="6.5"/>
<line x1="2247.0" y1="1733" x2="2247.0" y2="1767.5" stroke-width="6.5"/>
<line x1="651.9" y1="1733" x2="651.9" y2="1753" stroke-width="6.5"/>
<line x1="1006.4" y1="1733" x2="1006.4" y2="1753" stroke-width="6.5"/>
<line x1="1360.9" y1="1733" x2="1360.9" y2="1753" stroke-width="6.5"/>
<line x1="1715.3" y1="1733" x2="1715.3" y2="1753" stroke-width="6.5"/>
<line x1="2069.8" y1="1733" x2="2069.8" y2="1753" stroke-width="6.5"/>
</g>
<g font-family="'Liberation Sans', Arial, sans-serif" font-size="81" fill="#000">
<text x="248" y="312" text-anchor="end">140</text>
<text x="248" y="795" text-anchor="end">70</text>
<text x="248" y="1277" text-anchor="end">0</text>
<text x="248" y="1759" text-anchor="end">-70</text>
<text x="474.7" y="1847" text-anchor="middle">0</text>
<text x="829.2" y="1847" text-anchor="middle">2000</text>
<text x="1183.6" y="1847" text-anchor="middle">4000</text>
<text x="1538.1" y="1847" text-anchor="middle">6000</text>
<text x="1892.6" y="1847" text-anchor="middle">8000</text>
<text x="2247.0" y="1847" text-anchor="middle">10000</text>
<text x="1272" y="1981" text-anchor="middle">Epoches (5min)</text>
<text transform="translate(81,1009) rotate(-90)" x="0" y="0" text-anchor="middle">Inter System Bias (ns)</text>
</g>
<g stroke="#000" fill="none">
<line x1="483.7" y1="1019" x2="483.7" y2="1601" stroke-width="5.5"/>
<line x1="471" y1="1588.7" x2="1180" y2="1588.7" stroke-width="6"/>
<line x1="471" y1="1021.1" x2="484" y2="1021.1" stroke-width="5"/>
<line x1="471" y1="1210.2" x2="484" y2="1210.2" stroke-width="5"/>
<line x1="471" y1="1399.2" x2="484" y2="1399.2" stroke-width="5"/>
<line x1="477" y1="1115.6" x2="484" y2="1115.6" stroke-width="5"/>
<line x1="477" y1="1304.7" x2="484" y2="1304.7" stroke-width="5"/>
<line x1="477" y1="1493.7" x2="484" y2="1493.7" stroke-width="5"/>
<line x1="483.6" y1="1586" x2="483.6" y2="1601" stroke-width="4.5"/>
<line x1="657.2" y1="1586" x2="657.2" y2="1601" stroke-width="4.5"/>
<line x1="830.8" y1="1586" x2="830.8" y2="1601" stroke-width="4.5"/>
<line x1="1004.4" y1="1586" x2="1004.4" y2="1601" stroke-width="4.5"/>
<line x1="1178.0" y1="1586" x2="1178.0" y2="1601" stroke-width="4.5"/>
</g>
<g font-family="'Liberation Sans', Arial, sans-serif" font-size="46.5" fill="#000">
<text transform="translate(465.5,1036) scale(0.92,1)" text-anchor="end">140</text>
<text transform="translate(465.5,1225) scale(0.92,1)" text-anchor="end">70</text>
<text transform="translate(465.5,1411) scale(0.92,1)" text-anchor="end">0</text>
<text transform="translate(465.5,1600) scale(0.92,1)" text-anchor="end">-70</text>
<text transform="translate(483.6,1643) scale(0.92,1)" text-anchor="middle">4800</text>
<text transform="translate(657.2,1643) scale(0.92,1)" text-anchor="middle">5200</text>
<text transform="translate(830.8,1643) scale(0.92,1)" text-anchor="middle">5600</text>
<text transform="translate(1004.4,1643) scale(0.92,1)" text-anchor="middle">6000</text>
<text transform="translate(1178.0,1643) scale(0.92,1)" text-anchor="middle">6400</text>
<text x="832" y="1717.5" text-anchor="middle" textLength="306" lengthAdjust="spacingAndGlyphs">Epoches (5min)</text>
<text transform="translate(379.5,1308) rotate(-90)" text-anchor="middle" font-size="45" textLength="474" lengthAdjust="spacingAndGlyphs">Inter System Bias (ns)</text>
</g>
<rect x="1323" y="370" width="291.5" height="1224" fill="none" stroke="#ff0000" stroke-width="8"/>
<line x1="1321.5" y1="1157.5" x2="1212" y2="1310" stroke="#ff0000" stroke-width="4"/>
<path d="M1198.3 1330 L1211 1290 L1231 1305 Z" fill="#ff0000"/>
<rect x="596.2" y="28.6" width="1362.6" height="304.6" fill="none" stroke="#222" stroke-width="2.6"/>
<g fill="none" stroke-width="4.2">
<rect x="748.0" y="71.8" width="36" height="36" stroke="#000000" stroke-width="6"/>
<rect x="1136.5" y="71.8" width="36" height="36" stroke="#ff0000" stroke-width="6"/>
<rect x="1521.0" y="71.8" width="36" height="36" stroke="#00ff00" stroke-width="6"/>
<circle cx="766.0" cy="190.8" r="21.8" stroke="#0000ff" stroke-width="5"/>
<circle cx="1175.0" cy="190.8" r="21.8" stroke="#00ffff" stroke-width="5"/>
<circle cx="1563.5" cy="190.8" r="21.8" stroke="#ff00ff" stroke-width="5"/>
<path d="M765.8 263.5 L789.3 307 L742.3 307 Z" stroke="#ff8000" stroke-width="5" stroke-linejoin="miter"/>
<path d="M1162.5 263.5 L1186.0 307 L1139.0 307 Z" stroke="#808000" stroke-width="5" stroke-linejoin="miter"/>
<path d="M1568.0 263.5 L1591.5 307 L1544.5 307 Z" stroke="#008000" stroke-width="5" stroke-linejoin="miter"/>
</g>
<g font-family="'Liberation Sans', Arial, sans-serif" font-size="81" fill="#000">
<text x="862" y="113">CUT0</text>
<text x="1248" y="113">JFNG</text>
<text x="1636" y="113">SIN1</text>
<text x="862" y="212">HKOH</text>
<text x="1273" y="212">HKSL</text>
<text x="1662" y="212">HKWS</text>
<text x="862" y="312">MAJU</text>
<text x="1258" y="312">NAUR</text>
<text x="1665" y="312">NNOR</text>
</g></svg></body></html>
